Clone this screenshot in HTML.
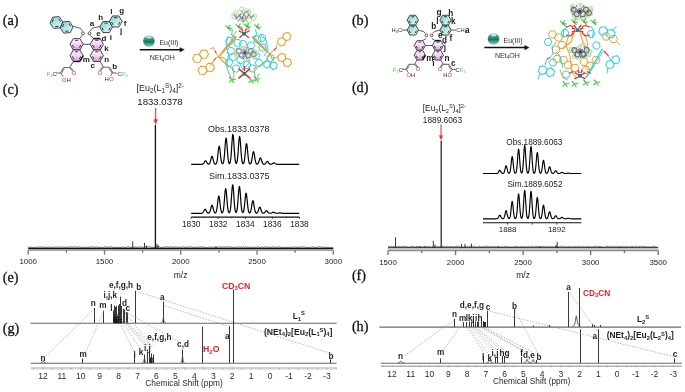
<!DOCTYPE html>
<html><head><meta charset="utf-8"><style>
html,body{margin:0;padding:0;background:#fff;}
svg{display:block;will-change:transform;}
</style></head><body>
<svg width="685" height="392" viewBox="0 0 685 392">
<rect width="685" height="392" fill="#fff"/>
<text x="2.8" y="25.2" font-size="14.2" fill="#111" font-weight="normal" text-anchor="start" font-family='"Liberation Serif", serif' stroke="#111" stroke-width="0.3">(a)</text>
<text x="351.9" y="24.6" font-size="14.2" fill="#111" font-weight="normal" text-anchor="start" font-family='"Liberation Serif", serif' stroke="#111" stroke-width="0.3">(b)</text>
<text x="2.8" y="93.9" font-size="14.2" fill="#111" font-weight="normal" text-anchor="start" font-family='"Liberation Serif", serif' stroke="#111" stroke-width="0.3">(c)</text>
<text x="351.9" y="92.4" font-size="14.2" fill="#111" font-weight="normal" text-anchor="start" font-family='"Liberation Serif", serif' stroke="#111" stroke-width="0.3">(d)</text>
<text x="2.8" y="281.5" font-size="14.2" fill="#111" font-weight="normal" text-anchor="start" font-family='"Liberation Serif", serif' stroke="#111" stroke-width="0.3">(e)</text>
<text x="351.9" y="280.1" font-size="14.2" fill="#111" font-weight="normal" text-anchor="start" font-family='"Liberation Serif", serif' stroke="#111" stroke-width="0.3">(f)</text>
<text x="2.8" y="332.7" font-size="14.2" fill="#111" font-weight="normal" text-anchor="start" font-family='"Liberation Serif", serif' stroke="#111" stroke-width="0.3">(g)</text>
<text x="351.9" y="331.3" font-size="14.2" fill="#111" font-weight="normal" text-anchor="start" font-family='"Liberation Serif", serif' stroke="#111" stroke-width="0.3">(h)</text>
<line x1="28.2" y1="249.9" x2="333.3" y2="249.9" stroke="#8a8a8a" stroke-width="1.5" />
<line x1="28.2" y1="249.9" x2="28.2" y2="254.8" stroke="#7a7a7a" stroke-width="1.3" />
<line x1="66.34" y1="249.9" x2="66.34" y2="252.7" stroke="#7a7a7a" stroke-width="1.3" />
<line x1="104.48" y1="249.9" x2="104.48" y2="254.8" stroke="#7a7a7a" stroke-width="1.3" />
<line x1="142.61" y1="249.9" x2="142.61" y2="252.7" stroke="#7a7a7a" stroke-width="1.3" />
<line x1="180.75" y1="249.9" x2="180.75" y2="254.8" stroke="#7a7a7a" stroke-width="1.3" />
<line x1="218.89" y1="249.9" x2="218.89" y2="252.7" stroke="#7a7a7a" stroke-width="1.3" />
<line x1="257.03" y1="249.9" x2="257.03" y2="254.8" stroke="#7a7a7a" stroke-width="1.3" />
<line x1="295.16" y1="249.9" x2="295.16" y2="252.7" stroke="#7a7a7a" stroke-width="1.3" />
<line x1="333.3" y1="249.9" x2="333.3" y2="254.8" stroke="#7a7a7a" stroke-width="1.3" />
<text x="28.2" y="264.3" font-size="7.9" fill="#222" font-weight="normal" text-anchor="middle" font-family='"Liberation Sans", sans-serif' >1000</text>
<text x="104.48" y="264.3" font-size="7.9" fill="#222" font-weight="normal" text-anchor="middle" font-family='"Liberation Sans", sans-serif' >1500</text>
<text x="180.75" y="264.3" font-size="7.9" fill="#222" font-weight="normal" text-anchor="middle" font-family='"Liberation Sans", sans-serif' >2000</text>
<text x="257.03" y="264.3" font-size="7.9" fill="#222" font-weight="normal" text-anchor="middle" font-family='"Liberation Sans", sans-serif' >2500</text>
<text x="333.3" y="264.3" font-size="7.9" fill="#222" font-weight="normal" text-anchor="middle" font-family='"Liberation Sans", sans-serif' >3000</text>
<text x="180.6" y="278.4" font-size="8.5" fill="#222" font-weight="normal" text-anchor="middle" font-family='"Liberation Sans", sans-serif' >m/z</text>
<polyline points="28.2,247.31 28.9,247.46 29.6,247.01 30.3,247.53 31,247.12 31.7,247.27 32.4,247.55 33.1,247.14 33.8,247.57 34.5,247.21 35.2,247.54 35.9,247.52 36.6,247.22 37.3,246.86 38,247.49 38.7,247.4 39.4,247.04 40.1,246.75 40.8,247.08 41.5,247.24 42.2,246.72 42.9,247.56 43.6,246.83 44.3,247.34 45,247.47 45.7,247.49 46.4,247.32 47.1,246.87 47.8,247.44 48.5,247.08 49.2,247.02 49.9,247.26 50.6,247.11 51.3,247.54 52,247.55 52.7,247.41 53.4,246.99 54.1,247.22 54.8,247.32 55.5,247.07 56.2,247.19 56.9,247.33 57.6,246.89 58.3,246.97 59,247.38 59.7,247.08 60.4,247.13 61.1,246.81 61.8,246.94 62.5,247.34 63.2,246.72 63.9,247.49 64.6,247.22 65.3,246.92 66,247.46 66.7,247.16 67.4,247.56 68.1,247 68.8,246.91 69.5,247.08 70.2,246.81 70.9,247.32 71.6,246.97 72.3,247.07 73,247.08 73.7,247.19 74.4,246.84 75.1,246.75 75.8,247.17 76.5,247 77.2,247.55 77.9,246.97 78.6,247.02 79.3,246.71 80,246.86 80.7,247.34 81.4,247.25 82.1,247 82.8,247.58 83.5,247.18 84.2,247.45 84.9,247.49 85.6,247.55 86.3,246.91 87,247.48 87.7,247.38 88.4,247.25 89.1,246.82 89.8,247.53 90.5,247.2 91.2,247.11 91.9,246.8 92.6,246.86 93.3,246.82 94,247.35 94.7,247.23 95.4,247.28 96.1,246.8 96.8,246.74 97.5,247.46 98.2,247.44 98.9,247.39 99.6,247.39 100.3,247.16 101,247.07 101.7,247.36 102.4,247.6 103.1,247.22 103.8,247.27 104.5,247.09 105.2,246.74 105.9,246.98 106.6,247.14 107.3,247.04 108,246.99 108.7,247.55 109.4,246.79 110.1,246.9 110.8,246.81 111.5,246.88 112.2,247.25 112.9,247.24 113.6,247.51 114.3,247.03 115,247.54 115.7,247.54 116.4,247.41 117.1,247.45 117.8,247.29 118.5,247.55 119.2,247.6 119.9,247.46 120.6,247.51 121.3,247.27 122,247.58 122.7,246.81 123.4,247.05 124.1,247.47 124.8,247.37 125.5,247.29 126.2,247.27 126.9,247.49 127.6,246.84 128.3,246.71 129,247.18 129.7,247.16 130.4,247.52 131.1,247.51 131.8,247.29 132.5,247.36 133.2,246.85 133.9,247.45 134.6,247.58 135.3,246.74 136,247.12 136.7,247.47 137.4,247.11 138.1,247.58 138.8,247.12 139.5,246.72 140.2,246.82 140.9,246.97 141.6,247.36 142.3,247.27 143,247.45 143.7,246.91 144.4,247.12 145.1,246.9 145.8,247.3 146.5,247.4 147.2,246.87 147.9,246.71 148.6,246.83 149.3,246.87 150,246.86 150.7,246.93 151.4,247.4 152.1,247.13 152.8,247.28 153.5,247.57 154.2,247.57 154.9,247.35 155.6,247.37 156.3,246.98 157,246.74 157.7,247.2 158.4,246.76 159.1,246.71 159.8,246.74 160.5,247.27 161.2,247.4 161.9,247.4 162.6,247.42 163.3,247.42 164,247.04 164.7,246.79 165.4,246.84 166.1,247.17 166.8,247.01 167.5,246.88 168.2,247.52 168.9,247.01 169.6,246.78 170.3,246.9 171,246.92 171.7,247.17 172.4,247.44 173.1,246.89 173.8,247.3 174.5,246.88 175.2,246.73 175.9,247.24 176.6,247.24 177.3,246.75 178,246.95 178.7,247.45 179.4,247.49 180.1,247.46 180.8,246.79 181.5,246.87 182.2,247.47 182.9,246.86 183.6,246.72 184.3,247.01 185,247.28 185.7,247.11 186.4,247.48 187.1,247.59 187.8,246.73 188.5,247.02 189.2,247.13 189.9,246.76 190.6,247.21 191.3,246.82 192,246.86 192.7,247.41 193.4,247.37 194.1,247.34 194.8,247.38 195.5,247.07 196.2,247.37 196.9,247.22 197.6,247.48 198.3,246.78 199,247.28 199.7,247.19 200.4,247.07 201.1,246.79 201.8,247.22 202.5,246.77 203.2,247.15 203.9,247.12 204.6,247.13 205.3,247.58 206,247.2 206.7,247.44 207.4,247.6 208.1,246.88 208.8,247.44 209.5,247.17 210.2,246.95 210.9,247.1 211.6,247.31 212.3,247.13 213,247.1 213.7,246.89 214.4,247.5 215.1,247.1 215.8,247.38 216.5,247.35 217.2,246.9 217.9,247.14 218.6,247.09 219.3,246.92 220,246.78 220.7,247.2 221.4,247.05 222.1,247.15 222.8,247.14 223.5,246.98 224.2,247.19 224.9,247.12 225.6,247.17 226.3,246.75 227,246.97 227.7,246.81 228.4,246.75 229.1,247.37 229.8,247.1 230.5,246.75 231.2,246.84 231.9,247.48 232.6,247.49 233.3,247.2 234,247.53 234.7,247.38 235.4,247.53 236.1,247 236.8,246.89 237.5,246.79 238.2,247.46 238.9,246.96 239.6,247.01 240.3,247.47 241,246.81 241.7,246.73 242.4,247.4 243.1,246.74 243.8,247.24 244.5,247.16 245.2,246.71 245.9,246.85 246.6,247.45 247.3,247.21 248,247.14 248.7,247.29 249.4,247.42 250.1,247.31 250.8,246.95 251.5,247.58 252.2,247.1 252.9,247.2 253.6,247.58 254.3,247.3 255,247.04 255.7,247.14 256.4,247.54 257.1,246.71 257.8,246.89 258.5,246.73 259.2,247.51 259.9,247.36 260.6,247.56 261.3,246.9 262,247.36 262.7,247.48 263.4,247.22 264.1,246.78 264.8,246.86 265.5,247.37 266.2,247.47 266.9,246.77 267.6,247.09 268.3,246.97 269,247.52 269.7,247.55 270.4,246.98 271.1,247.22 271.8,247.53 272.5,246.76 273.2,247.03 273.9,246.88 274.6,247.52 275.3,246.83 276,247.54 276.7,246.82 277.4,247.19 278.1,247.29 278.8,247.1 279.5,246.77 280.2,247.36 280.9,247.48 281.6,247.13 282.3,247.39 283,247.5 283.7,247.45 284.4,247.55 285.1,247.42 285.8,247.32 286.5,247.33 287.2,246.92 287.9,247.34 288.6,247.15 289.3,247.44 290,247.29 290.7,247.58 291.4,247.37 292.1,247.59 292.8,246.94 293.5,247.1 294.2,247.43 294.9,247.17 295.6,246.76 296.3,247.5 297,246.86 297.7,247.21 298.4,247.15 299.1,246.85 299.8,247.25 300.5,247.14 301.2,246.98 301.9,246.72 302.6,247.29 303.3,246.85 304,246.96 304.7,247.03 305.4,247.24 306.1,247.29 306.8,247.55 307.5,247.48 308.2,247.54 308.9,246.93 309.6,247.37 310.3,247.45 311,247.52 311.7,246.84 312.4,246.82 313.1,247 313.8,247.35 314.5,247.38 315.2,247.34 315.9,247.19 316.6,247.46 317.3,247.2 318,247.36 318.7,246.73 319.4,246.72 320.1,247.11 320.8,247.38 321.5,246.73 322.2,247.32 322.9,247.28 323.6,247.6 324.3,247.26 325,247.17 325.7,247.15 326.4,247.42 327.1,247.15 327.8,247.6 328.5,247.36 329.2,247.52 329.9,247.24 330.6,247.56 331.3,247.58 332,247.33 332.7,247.39" stroke="#333" stroke-width="0.7" fill="none" stroke-linejoin="round" />
<line x1="28.2" y1="248.45" x2="333.3" y2="248.45" stroke="#111" stroke-width="1.3" />
<line x1="132.7" y1="248" x2="132.7" y2="241.4" stroke="#222" stroke-width="0.9" />
<line x1="144.5" y1="248" x2="144.5" y2="242.9" stroke="#222" stroke-width="0.9" />
<line x1="157" y1="248" x2="157" y2="244" stroke="#222" stroke-width="0.9" />
<line x1="158.2" y1="248" x2="158.2" y2="245.5" stroke="#222" stroke-width="0.9" />
<line x1="216" y1="248" x2="216" y2="246.3" stroke="#222" stroke-width="0.9" />
<line x1="146.5" y1="248" x2="146.5" y2="245.5" stroke="#222" stroke-width="0.9" />
<line x1="155.4" y1="248.5" x2="155.4" y2="125" stroke="#111" stroke-width="1.3" />
<line x1="155.7" y1="108" x2="155.7" y2="120" stroke="#ee2222" stroke-width="1" />
<polygon points="153.9,119.5 157.5,119.5 155.7,124.5" stroke="#ee2222" stroke-width="0.3" fill="#ee2222" stroke-linejoin="round" />
<text x="136.5" y="91" font-size="9" fill="#222" font-family='"Liberation Sans", sans-serif'>[Eu<tspan font-size="6.3" dy="2">2</tspan><tspan dy="-2">(L</tspan><tspan font-size="6.3" dy="2">1</tspan><tspan font-size="6.3" dy="-5">S</tspan><tspan dy="3">)</tspan><tspan font-size="6.3" dy="2">4</tspan><tspan dy="-2">]</tspan><tspan font-size="6.3" dy="-3.5">2-</tspan></text>
<text x="137.3" y="105.2" font-size="9.6" fill="#222" font-weight="normal" text-anchor="start" font-family='"Liberation Sans", sans-serif' >1833.0378</text>
<polyline points="191.2,164.3 191.6,164.3 192,164.3 192.4,164.3 192.8,164.3 193.2,164.3 193.6,164.3 194,164.3 194.4,164.3 194.8,164.3 195.2,164.3 195.6,164.3 196,164.3 196.4,164.3 196.8,164.3 197.2,164.3 197.6,164.3 198,164.3 198.4,164.3 198.8,164.3 199.2,164.3 199.6,164.3 200,164.3 200.4,164.3 200.8,164.3 201.2,164.3 201.6,164.29 202,164.27 202.4,164.21 202.8,164.08 203.2,163.83 203.6,163.41 204,162.81 204.4,162.08 204.8,161.39 205.2,160.92 205.6,160.81 206,161.12 206.4,161.72 206.8,162.45 207.2,163.13 207.6,163.63 208,163.95 208.4,164.09 208.8,164.08 209.2,163.87 209.6,163.39 210,162.54 210.4,161.26 210.8,159.66 211.2,158.02 211.6,156.77 212,156.3 212.4,156.77 212.8,158.02 213.2,159.66 213.6,161.26 214,162.54 214.4,163.39 214.8,163.88 215.2,164.09 215.6,164.1 216,163.9 216.4,163.36 216.8,162.24 217.2,160.29 217.6,157.39 218,153.74 218.4,150.01 218.8,147.17 219.2,146.1 219.6,147.17 220,150.01 220.4,153.74 220.8,157.39 221.2,160.29 221.6,162.23 222,163.32 222.4,163.77 222.8,163.74 223.2,163.16 223.6,161.81 224,159.33 224.4,155.48 224.8,150.42 225.2,144.94 225.6,140.37 226,138.1 226.4,138.88 226.8,142.45 227.2,147.65 227.6,153.07 228,157.58 228.4,160.73 228.8,162.58 229.2,163.44 229.6,163.56 230,162.97 230.4,161.45 230.8,158.63 231.2,154.24 231.6,148.46 232,142.21 232.4,137.01 232.8,134.41 233.2,135.3 233.6,139.37 234,145.31 234.4,151.49 234.8,156.63 235.2,160.22 235.6,162.33 236,163.3 236.4,163.42 236.8,162.76 237.2,161.1 237.6,158.12 238,153.66 238.4,148.05 238.8,142.32 239.2,137.94 239.6,136.3 240,137.94 240.4,142.32 240.8,148.05 241.2,153.66 241.6,158.13 242,161.12 242.4,162.82 242.8,163.6 243.2,163.75 243.6,163.37 244,162.32 244.4,160.37 244.8,157.32 245.2,153.32 245.6,148.99 246,145.38 246.4,143.58 246.8,144.2 247.2,147.02 247.6,151.14 248,155.42 248.4,158.99 248.8,161.48 249.2,162.97 249.6,163.71 250,163.97 250.4,163.9 250.8,163.47 251.2,162.58 251.6,161.06 252,158.88 252.4,156.26 252.8,153.75 253.2,152.02 253.6,151.65 254,152.75 254.4,154.95 254.8,157.6 255.2,160.04 255.6,161.9 256,163.1 256.4,163.76 256.8,164.04 257.2,164.09 257.6,163.94 258,163.56 258.4,162.87 258.8,161.83 259.2,160.53 259.6,159.2 260,158.18 260.4,157.8 260.8,158.18 261.2,159.2 261.6,160.53 262,161.83 262.4,162.87 262.8,163.56 263.2,163.96 263.6,164.15 264,164.2 264.4,164.16 264.8,164.02 265.2,163.75 265.6,163.33 266,162.77 266.4,162.16 266.8,161.66 267.2,161.41 267.6,161.5 268,161.89 268.4,162.46 268.8,163.06 269.2,163.56 269.6,163.91 270,164.11 270.4,164.21 270.8,164.23 271.2,164.2 271.6,164.11 272,163.94 272.4,163.7 272.8,163.41 273.2,163.14 273.6,162.95 274,162.91 274.4,163.03 274.8,163.27 275.2,163.56 275.6,163.83 276,164.04 276.4,164.17 276.8,164.24 277.2,164.28 277.6,164.29 278,164.3 278.4,164.3 278.8,164.3 279.2,164.3 279.6,164.3 280,164.3 280.4,164.3 280.8,164.3 281.2,164.3 281.6,164.3 282,164.3 282.4,164.3 282.8,164.3 283.2,164.3 283.6,164.3 284,164.3 284.4,164.3 284.8,164.3 285.2,164.3 285.6,164.3 286,164.3 286.4,164.3 286.8,164.3 287.2,164.3 287.6,164.3 288,164.3 288.4,164.3 288.8,164.3 289.2,164.3 289.6,164.3 290,164.3 290.4,164.3 290.8,164.3 291.2,164.3 291.6,164.3 292,164.3 292.4,164.3 292.8,164.3 293.2,164.3 293.6,164.3 294,164.3 294.4,164.3 294.8,164.3 295.2,164.3 295.6,164.3 296,164.3 296.4,164.3 296.8,164.3 297.2,164.3 297.6,164.3 298,164.3 298.4,164.3 298.8,164.3 299.2,164.3" stroke="#000" stroke-width="1.2" fill="none" stroke-linejoin="round" />
<polyline points="191.2,213.3 191.6,213.3 192,213.3 192.4,213.3 192.8,213.3 193.2,213.3 193.6,213.3 194,213.3 194.4,213.3 194.8,213.3 195.2,213.3 195.6,213.3 196,213.3 196.4,213.3 196.8,213.3 197.2,213.3 197.6,213.3 198,213.3 198.4,213.3 198.8,213.3 199.2,213.3 199.6,213.3 200,213.3 200.4,213.3 200.8,213.3 201.2,213.29 201.6,213.26 202,213.19 202.4,213.04 202.8,212.75 203.2,212.25 203.6,211.55 204,210.71 204.4,209.89 204.8,209.34 205.2,209.22 205.6,209.57 206,210.28 206.4,211.14 206.8,211.92 207.2,212.52 207.6,212.91 208,213.11 208.4,213.17 208.8,213.11 209.2,212.87 209.6,212.37 210,211.49 210.4,210.18 210.8,208.54 211.2,206.86 211.6,205.58 212,205.1 212.4,205.58 212.8,206.86 213.2,208.54 213.6,210.18 214,211.49 214.4,212.36 214.8,212.84 215.2,213 215.6,212.88 216,212.38 216.4,211.32 216.8,209.46 217.2,206.69 217.6,203.2 218,199.64 218.4,196.92 218.8,195.9 219.2,196.92 219.6,199.64 220,203.2 220.4,206.69 220.8,209.46 221.2,211.32 221.6,212.36 222,212.8 222.4,212.76 222.8,212.22 223.2,210.94 223.6,208.6 224,204.95 224.4,200.16 224.8,194.97 225.2,190.65 225.6,188.49 226,189.23 226.4,192.61 226.8,197.54 227.2,202.66 227.6,206.94 228,209.92 228.4,211.69 228.8,212.55 229.2,212.78 229.6,212.46 230,211.46 230.4,209.42 230.8,205.99 231.2,201.08 231.6,195.2 232,189.54 232.4,185.66 232.8,184.81 233.2,187.28 233.6,192.24 234,198.2 234.4,203.71 234.8,207.89 235.2,210.57 235.6,212 236,212.49 236.4,212.24 236.8,211.15 237.2,208.95 237.6,205.36 238,200.43 238.4,194.8 238.8,189.74 239.2,186.71 239.6,186.71 240,189.74 240.4,194.8 240.8,200.43 241.2,205.37 241.6,208.96 242,211.17 242.4,212.29 242.8,212.63 243.2,212.34 243.6,211.36 244,209.48 244.4,206.52 244.8,202.64 245.2,198.43 245.6,194.92 246,193.18 246.4,193.78 246.8,196.52 247.2,200.52 247.6,204.67 248,208.14 248.4,210.56 248.8,211.99 249.2,212.69 249.6,212.9 250,212.71 250.4,212.09 250.8,210.9 251.2,209.04 251.6,206.6 252,203.95 252.4,201.75 252.8,200.65 253.2,201.02 253.6,202.75 254,205.26 254.4,207.88 254.8,210.06 255.2,211.58 255.6,212.49 256,212.94 256.4,213.1 256.8,213.05 257.2,212.81 257.6,212.3 258,211.48 258.4,210.34 258.8,209.05 259.2,207.89 259.6,207.19 260,207.19 260.4,207.89 260.8,209.05 261.2,210.34 261.6,211.48 262,212.3 262.4,212.81 262.8,213.08 263.2,213.18 263.6,213.17 264,213.06 264.4,212.83 264.8,212.46 265.2,211.98 265.6,211.46 266,211.03 266.4,210.81 266.8,210.88 267.2,211.22 267.6,211.72 268,212.23 268.4,212.66 268.8,212.96 269.2,213.14 269.6,213.23 270,213.26 270.4,213.26 270.8,213.23 271.2,213.15 271.6,213.02 272,212.83 272.4,212.6 272.8,212.39 273.2,212.24 273.6,212.2 274,212.3 274.4,212.49 274.8,212.72 275.2,212.93 275.6,213.09 276,213.2 276.4,213.25 276.8,213.27 277.2,213.27 277.6,213.25 278,213.21 278.4,213.15 278.8,213.07 279.2,212.99 279.6,212.92 280,212.9 280.4,212.92 280.8,212.99 281.2,213.07 281.6,213.15 282,213.21 282.4,213.25 282.8,213.28 283.2,213.29 283.6,213.3 284,213.3 284.4,213.3 284.8,213.3 285.2,213.3 285.6,213.3 286,213.3 286.4,213.3 286.8,213.3 287.2,213.3 287.6,213.3 288,213.3 288.4,213.3 288.8,213.3 289.2,213.3 289.6,213.3 290,213.3 290.4,213.3 290.8,213.3 291.2,213.3 291.6,213.3 292,213.3 292.4,213.3 292.8,213.3 293.2,213.3 293.6,213.3 294,213.3 294.4,213.3 294.8,213.3 295.2,213.3 295.6,213.3 296,213.3 296.4,213.3 296.8,213.3 297.2,213.3 297.6,213.3 298,213.3 298.4,213.3 298.8,213.3 299.2,213.3" stroke="#000" stroke-width="1.2" fill="none" stroke-linejoin="round" />
<text x="208" y="132.2" font-size="9" fill="#222" font-weight="normal" text-anchor="start" font-family='"Liberation Sans", sans-serif' >Obs.1833.0378</text>
<text x="209" y="178.6" font-size="9" fill="#222" font-weight="normal" text-anchor="start" font-family='"Liberation Sans", sans-serif' >Sim.1833.0375</text>
<line x1="191.2" y1="217.1" x2="299.4" y2="217.1" stroke="#111" stroke-width="1.1" />
<line x1="191.2" y1="217.1" x2="191.2" y2="218.7" stroke="#111" stroke-width="0.9" />
<line x1="204.72" y1="217.1" x2="204.72" y2="218.1" stroke="#111" stroke-width="0.9" />
<line x1="218.25" y1="217.1" x2="218.25" y2="218.7" stroke="#111" stroke-width="0.9" />
<line x1="231.77" y1="217.1" x2="231.77" y2="218.1" stroke="#111" stroke-width="0.9" />
<line x1="245.3" y1="217.1" x2="245.3" y2="218.7" stroke="#111" stroke-width="0.9" />
<line x1="258.82" y1="217.1" x2="258.82" y2="218.1" stroke="#111" stroke-width="0.9" />
<line x1="272.35" y1="217.1" x2="272.35" y2="218.7" stroke="#111" stroke-width="0.9" />
<line x1="285.88" y1="217.1" x2="285.88" y2="218.1" stroke="#111" stroke-width="0.9" />
<line x1="299.4" y1="217.1" x2="299.4" y2="218.7" stroke="#111" stroke-width="0.9" />
<text x="191.2" y="226.7" font-size="8.3" fill="#222" font-weight="normal" text-anchor="middle" font-family='"Liberation Sans", sans-serif' >1830</text>
<text x="218.25" y="226.7" font-size="8.3" fill="#222" font-weight="normal" text-anchor="middle" font-family='"Liberation Sans", sans-serif' >1832</text>
<text x="245.3" y="226.7" font-size="8.3" fill="#222" font-weight="normal" text-anchor="middle" font-family='"Liberation Sans", sans-serif' >1834</text>
<text x="272.35" y="226.7" font-size="8.3" fill="#222" font-weight="normal" text-anchor="middle" font-family='"Liberation Sans", sans-serif' >1836</text>
<text x="299.4" y="226.7" font-size="8.3" fill="#222" font-weight="normal" text-anchor="middle" font-family='"Liberation Sans", sans-serif' >1838</text>
<line x1="388" y1="250.45" x2="658.2" y2="250.45" stroke="#8c8c8c" stroke-width="1.8" />
<line x1="388" y1="250.45" x2="388" y2="255.05" stroke="#707070" stroke-width="1.3" />
<line x1="421.77" y1="250.45" x2="421.77" y2="253.25" stroke="#707070" stroke-width="1.3" />
<line x1="455.55" y1="250.45" x2="455.55" y2="255.05" stroke="#707070" stroke-width="1.3" />
<line x1="489.33" y1="250.45" x2="489.33" y2="253.25" stroke="#707070" stroke-width="1.3" />
<line x1="523.1" y1="250.45" x2="523.1" y2="255.05" stroke="#707070" stroke-width="1.3" />
<line x1="556.88" y1="250.45" x2="556.88" y2="253.25" stroke="#707070" stroke-width="1.3" />
<line x1="590.65" y1="250.45" x2="590.65" y2="255.05" stroke="#707070" stroke-width="1.3" />
<line x1="624.43" y1="250.45" x2="624.43" y2="253.25" stroke="#707070" stroke-width="1.3" />
<line x1="658.2" y1="250.45" x2="658.2" y2="255.05" stroke="#707070" stroke-width="1.3" />
<text x="388" y="264.7" font-size="7.9" fill="#222" font-weight="normal" text-anchor="middle" font-family='"Liberation Sans", sans-serif' >1500</text>
<text x="455.55" y="264.7" font-size="7.9" fill="#222" font-weight="normal" text-anchor="middle" font-family='"Liberation Sans", sans-serif' >2000</text>
<text x="523.1" y="264.7" font-size="7.9" fill="#222" font-weight="normal" text-anchor="middle" font-family='"Liberation Sans", sans-serif' >2500</text>
<text x="590.65" y="264.7" font-size="7.9" fill="#222" font-weight="normal" text-anchor="middle" font-family='"Liberation Sans", sans-serif' >3000</text>
<text x="658.2" y="264.7" font-size="7.9" fill="#222" font-weight="normal" text-anchor="middle" font-family='"Liberation Sans", sans-serif' >3500</text>
<text x="523.1" y="278.4" font-size="8.5" fill="#222" font-weight="normal" text-anchor="middle" font-family='"Liberation Sans", sans-serif' >m/z</text>
<polyline points="388,246.61 388.7,246.67 389.4,246.45 390.1,246.54 390.8,246.48 391.5,246.32 392.2,246.81 392.9,246.87 393.6,246.22 394.3,247.05 395,246.48 395.7,246.56 396.4,247.16 397.1,246.36 397.8,246.31 398.5,246.57 399.2,246.47 399.9,246.39 400.6,247.06 401.3,246.68 402,246.7 402.7,246.37 403.4,246.4 404.1,246.37 404.8,246.62 405.5,246.31 406.2,246.52 406.9,246.51 407.6,246.97 408.3,247.17 409,247.07 409.7,246.84 410.4,247.1 411.1,246.36 411.8,246.64 412.5,246.57 413.2,246.57 413.9,246.52 414.6,246.71 415.3,247.2 416,246.4 416.7,246.45 417.4,246.7 418.1,246.66 418.8,246.54 419.5,247.13 420.2,246.46 420.9,246.95 421.6,247.13 422.3,246.93 423,246.47 423.7,246.99 424.4,246.46 425.1,246.22 425.8,246.71 426.5,246.82 427.2,246.72 427.9,246.52 428.6,246.43 429.3,246.58 430,246.56 430.7,247.12 431.4,247.05 432.1,246.95 432.8,246.46 433.5,246.9 434.2,246.63 434.9,247.19 435.6,247.14 436.3,246.93 437,246.53 437.7,246.51 438.4,246.52 439.1,246.91 439.8,246.68 440.5,246.74 441.2,246.73 441.9,247.08 442.6,246.31 443.3,247 444,246.22 444.7,246.26 445.4,247.18 446.1,246.74 446.8,246.38 447.5,246.23 448.2,246.75 448.9,246.93 449.6,246.99 450.3,246.25 451,246.99 451.7,246.62 452.4,247.06 453.1,246.68 453.8,246.25 454.5,247.07 455.2,246.38 455.9,246.69 456.6,246.31 457.3,246.5 458,246.97 458.7,246.3 459.4,246.71 460.1,247.18 460.8,247.2 461.5,246.71 462.2,246.75 462.9,246.9 463.6,247.06 464.3,246.86 465,246.88 465.7,246.36 466.4,247.2 467.1,246.45 467.8,246.36 468.5,247.08 469.2,246.27 469.9,246.49 470.6,246.3 471.3,246.91 472,246.83 472.7,246.81 473.4,246.2 474.1,246.61 474.8,246.84 475.5,246.77 476.2,246.92 476.9,247.15 477.6,247.1 478.3,246.37 479,246.91 479.7,246.26 480.4,246.95 481.1,246.93 481.8,246.69 482.5,247.01 483.2,246.83 483.9,246.24 484.6,246.32 485.3,246.39 486,246.57 486.7,246.29 487.4,246.26 488.1,246.65 488.8,246.48 489.5,247.15 490.2,246.47 490.9,246.75 491.6,246.45 492.3,246.56 493,246.91 493.7,247.15 494.4,246.27 495.1,247.07 495.8,246.73 496.5,246.86 497.2,246.9 497.9,246.46 498.6,246.22 499.3,246.94 500,246.54 500.7,246.9 501.4,246.64 502.1,246.81 502.8,247.03 503.5,247.04 504.2,246.99 504.9,246.29 505.6,246.7 506.3,246.98 507,246.29 507.7,246.2 508.4,246.75 509.1,247.06 509.8,247.01 510.5,247.11 511.2,246.86 511.9,247.11 512.6,246.96 513.3,246.94 514,246.63 514.7,246.31 515.4,246.45 516.1,246.79 516.8,246.79 517.5,246.68 518.2,246.82 518.9,246.86 519.6,247.14 520.3,246.92 521,246.23 521.7,247.07 522.4,246.7 523.1,246.57 523.8,246.34 524.5,246.98 525.2,246.93 525.9,246.95 526.6,246.8 527.3,246.75 528,246.25 528.7,246.35 529.4,246.33 530.1,247.18 530.8,247.17 531.5,246.49 532.2,246.3 532.9,246.73 533.6,246.61 534.3,247.2 535,246.81 535.7,246.27 536.4,246.37 537.1,246.34 537.8,246.23 538.5,246.95 539.2,247.09 539.9,247.05 540.6,246.68 541.3,246.52 542,246.26 542.7,246.48 543.4,246.55 544.1,246.44 544.8,246.74 545.5,246.65 546.2,247.16 546.9,246.42 547.6,246.97 548.3,246.28 549,246.55 549.7,246.9 550.4,247.07 551.1,246.95 551.8,246.56 552.5,246.5 553.2,247.09 553.9,247.13 554.6,246.68 555.3,246.62 556,246.81 556.7,246.98 557.4,246.6 558.1,247.19 558.8,246.9 559.5,246.74 560.2,246.24 560.9,246.56 561.6,246.32 562.3,246.72 563,246.97 563.7,246.95 564.4,246.24 565.1,246.5 565.8,246.89 566.5,247.18 567.2,246.7 567.9,246.53 568.6,246.78 569.3,246.94 570,246.53 570.7,246.27 571.4,246.97 572.1,247.17 572.8,246.86 573.5,246.78 574.2,246.52 574.9,247 575.6,246.4 576.3,246.46 577,246.7 577.7,246.99 578.4,246.23 579.1,246.89 579.8,246.38 580.5,246.97 581.2,246.98 581.9,246.44 582.6,246.91 583.3,246.25 584,246.7 584.7,247.01 585.4,246.98 586.1,246.78 586.8,246.53 587.5,246.25 588.2,247.05 588.9,246.81 589.6,246.99 590.3,246.23 591,247.06 591.7,247.15 592.4,247.14 593.1,246.81 593.8,246.3 594.5,246.32 595.2,246.47 595.9,246.2 596.6,246.27 597.3,246.87 598,247.01 598.7,246.26 599.4,246.45 600.1,247.17 600.8,246.54 601.5,246.82 602.2,246.83 602.9,246.87 603.6,247.03 604.3,247.2 605,246.92 605.7,246.85 606.4,246.24 607.1,247.08 607.8,246.24 608.5,246.99 609.2,246.84 609.9,246.38 610.6,246.38 611.3,246.77 612,247.15 612.7,246.73 613.4,246.83 614.1,246.28 614.8,247.01 615.5,246.84 616.2,246.3 616.9,247.17 617.6,246.79 618.3,246.39 619,246.43 619.7,247.16 620.4,247.17 621.1,247.14 621.8,246.28 622.5,246.94 623.2,246.45 623.9,246.3 624.6,246.86 625.3,246.93 626,246.24 626.7,246.58 627.4,246.94 628.1,246.48 628.8,246.88 629.5,246.92 630.2,247.2 630.9,246.44 631.6,246.28 632.3,246.57 633,246.26 633.7,247.18 634.4,246.97 635.1,246.72 635.8,246.24 636.5,246.25 637.2,246.81 637.9,246.95 638.6,246.77 639.3,246.71 640,246.27 640.7,247.02 641.4,246.4 642.1,246.46 642.8,246.38 643.5,246.43 644.2,246.59 644.9,246.87 645.6,246.88 646.3,246.84 647,246.42 647.7,247.12 648.4,247 649.1,246.45 649.8,246.95 650.5,247.14 651.2,247.17 651.9,246.65 652.6,246.87 653.3,246.22 654,246.32 654.7,246.21 655.4,246.94 656.1,247.12 656.8,247.1 657.5,246.7" stroke="#333" stroke-width="0.7" fill="none" stroke-linejoin="round" />
<line x1="388" y1="247.75" x2="658.2" y2="247.75" stroke="#111" stroke-width="1.2" />
<line x1="395.5" y1="247.8" x2="395.5" y2="237.3" stroke="#222" stroke-width="0.9" />
<line x1="433.3" y1="247.8" x2="433.3" y2="240.8" stroke="#222" stroke-width="0.9" />
<line x1="435" y1="247.8" x2="435" y2="244.5" stroke="#222" stroke-width="0.9" />
<line x1="461.4" y1="247.8" x2="461.4" y2="244" stroke="#222" stroke-width="0.9" />
<line x1="465" y1="247.8" x2="465" y2="244" stroke="#222" stroke-width="0.9" />
<line x1="471.4" y1="247.8" x2="471.4" y2="243.5" stroke="#222" stroke-width="0.9" />
<line x1="557.2" y1="247.8" x2="557.2" y2="241.8" stroke="#222" stroke-width="0.9" />
<line x1="556" y1="247.8" x2="556" y2="245" stroke="#222" stroke-width="0.9" />
<line x1="420" y1="247.8" x2="420" y2="246" stroke="#222" stroke-width="0.9" />
<line x1="425" y1="247.8" x2="425" y2="246.5" stroke="#222" stroke-width="0.9" />
<line x1="498" y1="247.8" x2="498" y2="246.5" stroke="#222" stroke-width="0.9" />
<line x1="540" y1="247.8" x2="540" y2="246" stroke="#222" stroke-width="0.9" />
<line x1="600" y1="247.8" x2="600" y2="246.8" stroke="#222" stroke-width="0.9" />
<line x1="620" y1="247.8" x2="620" y2="246.5" stroke="#222" stroke-width="0.9" />
<line x1="441.2" y1="247.8" x2="441.2" y2="140.8" stroke="#1a1a1a" stroke-width="1.2" />
<line x1="441" y1="124.5" x2="441" y2="136" stroke="#ee2222" stroke-width="1" />
<polygon points="439.3,135.5 442.7,135.5 441,140.3" stroke="#ee2222" stroke-width="0.3" fill="#ee2222" stroke-linejoin="round" />
<text x="422.8" y="110.6" font-size="8.3" fill="#222" font-family='"Liberation Sans", sans-serif'>[Eu<tspan font-size="5.6" dy="2">2</tspan><tspan dy="-2">(L</tspan><tspan font-size="5.6" dy="2">2</tspan><tspan font-size="5.6" dy="-4.5">S</tspan><tspan dy="2.5">)</tspan><tspan font-size="5.6" dy="2">4</tspan><tspan dy="-2">]</tspan><tspan font-size="5.6" dy="-3">2-</tspan></text>
<text x="422.8" y="122.6" font-size="8.3" fill="#222" font-weight="normal" text-anchor="start" font-family='"Liberation Sans", sans-serif' >1889.6063</text>
<polyline points="483,173.5 483.4,173.5 483.8,173.5 484.2,173.5 484.6,173.5 485,173.5 485.4,173.5 485.8,173.5 486.2,173.5 486.6,173.5 487,173.5 487.4,173.5 487.8,173.5 488.2,173.5 488.6,173.5 489,173.5 489.4,173.5 489.8,173.5 490.2,173.5 490.6,173.5 491,173.5 491.4,173.5 491.8,173.5 492.2,173.5 492.6,173.5 493,173.5 493.4,173.5 493.8,173.5 494.2,173.5 494.6,173.5 495,173.5 495.4,173.5 495.8,173.5 496.2,173.49 496.6,173.48 497,173.43 497.4,173.31 497.8,173.05 498.2,172.58 498.6,171.89 499,171.1 499.4,170.45 499.8,170.2 500.2,170.45 500.6,171.1 501,171.89 501.4,172.58 501.8,173.05 502.2,173.31 502.6,173.42 503,173.42 503.4,173.29 503.8,172.95 504.2,172.22 504.6,170.97 505,169.24 505.4,167.39 505.8,166.04 506.2,165.74 506.6,166.62 507,168.3 507.4,170.15 507.8,171.66 508.2,172.63 508.6,173.13 509,173.28 509.4,173.13 509.8,172.54 510.2,171.2 510.6,168.77 511,165.23 511.4,161.16 511.8,157.81 512.2,156.5 512.6,157.81 513,161.16 513.4,165.23 513.8,168.77 514.2,171.2 514.6,172.54 515,173.13 515.4,173.25 515.8,172.99 516.2,172.12 516.6,170.18 517,166.69 517.4,161.57 517.8,155.71 518.2,150.88 518.6,149 519,150.88 519.4,155.71 519.8,161.57 520.2,166.69 520.6,170.18 521,172.09 521.4,172.89 521.8,172.93 522.2,172.22 522.6,170.38 523,166.85 523.4,161.39 523.8,154.69 524.2,148.61 524.6,145.44 525,146.54 525.4,151.43 525.8,158.1 526.2,164.34 526.6,168.86 527,171.49 527.4,172.72 527.8,173.11 528.2,172.9 528.6,171.96 529,169.82 529.4,165.94 529.8,160.26 530.2,153.75 530.6,148.39 531,146.3 531.4,148.39 531.8,153.75 532.2,160.26 532.6,165.94 533,169.82 533.4,171.96 533.8,172.91 534.2,173.16 534.6,172.91 535,171.99 535.4,170.03 535.8,166.65 536.2,161.98 536.6,156.98 537,153.33 537.4,152.51 537.8,154.88 538.2,159.43 538.6,164.44 539,168.53 539.4,171.17 539.8,172.56 540.2,173.13 540.6,173.21 541,172.89 541.4,172.03 541.8,170.36 542.2,167.79 542.6,164.63 543,161.76 543.4,160.27 543.8,160.79 544.2,163.09 544.6,166.24 545,169.18 545.4,171.31 545.8,172.55 546.2,173.13 546.6,173.32 547,173.24 547.4,172.89 547.8,172.15 548.2,170.95 548.6,169.38 549,167.82 549.4,166.83 549.8,166.83 550.2,167.82 550.6,169.38 551,170.95 551.4,172.15 551.8,172.89 552.2,173.26 552.6,173.4 553,173.41 553.4,173.3 553.8,173.05 554.2,172.62 554.6,172.03 555,171.39 555.4,170.92 555.8,170.81 556.2,171.12 556.6,171.7 557,172.34 557.4,172.86 557.8,173.2 558.2,173.38 558.6,173.46 559,173.48 559.4,173.46 559.8,173.4 560.2,173.28 560.6,173.09 561,172.83 561.4,172.58 561.8,172.42 562.2,172.42 562.6,172.58 563,172.83 563.4,173.09 563.8,173.28 564.2,173.4 564.6,173.46 565,173.49 565.4,173.49 565.8,173.48 566.2,173.45 566.6,173.39 567,173.31 567.4,173.21 567.8,173.13 568.2,173.1 568.6,173.13 569,173.21 569.4,173.31 569.8,173.39 570.2,173.45 570.6,173.48 571,173.49 571.4,173.5 571.8,173.5 572.2,173.5 572.6,173.5 573,173.5 573.4,173.5 573.8,173.5 574.2,173.5 574.6,173.5 575,173.5 575.4,173.5 575.8,173.5 576.2,173.5 576.6,173.5 577,173.5 577.4,173.5 577.8,173.5 578.2,173.5 578.6,173.5 579,173.5 579.4,173.5 579.8,173.5 580.2,173.5 580.6,173.5 581,173.5 581.4,173.5" stroke="#000" stroke-width="1.15" fill="none" stroke-linejoin="round" />
<polyline points="483,218.8 483.4,218.8 483.8,218.8 484.2,218.8 484.6,218.8 485,218.8 485.4,218.8 485.8,218.8 486.2,218.8 486.6,218.8 487,218.8 487.4,218.8 487.8,218.8 488.2,218.8 488.6,218.8 489,218.8 489.4,218.8 489.8,218.8 490.2,218.8 490.6,218.8 491,218.8 491.4,218.8 491.8,218.8 492.2,218.8 492.6,218.8 493,218.8 493.4,218.8 493.8,218.8 494.2,218.8 494.6,218.8 495,218.8 495.4,218.8 495.8,218.8 496.2,218.79 496.6,218.78 497,218.73 497.4,218.59 497.8,218.3 498.2,217.77 498.6,217 499,216.11 499.4,215.38 499.8,215.1 500.2,215.38 500.6,216.11 501,217 501.4,217.77 501.8,218.3 502.2,218.59 502.6,218.71 503,218.71 503.4,218.58 503.8,218.22 504.2,217.45 504.6,216.14 505,214.32 505.4,212.38 505.8,210.96 506.2,210.64 506.6,211.56 507,213.33 507.4,215.28 507.8,216.87 508.2,217.89 508.6,218.41 509,218.57 509.4,218.42 509.8,217.81 510.2,216.44 510.6,213.96 511,210.33 511.4,206.17 511.8,202.74 512.2,201.4 512.6,202.74 513,206.17 513.4,210.33 513.8,213.96 514.2,216.44 514.6,217.81 515,218.42 515.4,218.55 515.8,218.28 516.2,217.4 516.6,215.43 517,211.88 517.4,206.68 517.8,200.72 518.2,195.81 518.6,193.9 519,195.81 519.4,200.72 519.8,206.68 520.2,211.88 520.6,215.42 521,217.37 521.4,218.18 521.8,218.22 522.2,217.51 522.6,215.64 523,212.06 523.4,206.51 523.8,199.72 524.2,193.56 524.6,190.34 525,191.46 525.4,196.41 525.8,203.18 526.2,209.51 526.6,214.09 527,216.76 527.4,218.01 527.8,218.4 528.2,218.19 528.6,217.24 529,215.06 529.4,211.13 529.8,205.37 530.2,198.76 530.6,193.32 531,191.2 531.4,193.32 531.8,198.76 532.2,205.37 532.6,211.13 533,215.06 533.4,217.24 533.8,218.21 534.2,218.46 534.6,218.2 535,217.26 535.4,215.26 535.8,211.82 536.2,207.06 536.6,201.97 537,198.25 537.4,197.41 537.8,199.83 538.2,204.46 538.6,209.56 539,213.73 539.4,216.43 539.8,217.84 540.2,218.42 540.6,218.5 541,218.18 541.4,217.28 541.8,215.57 542.2,212.91 542.6,209.66 543,206.71 543.4,205.17 543.8,205.7 544.2,208.08 544.6,211.32 545,214.35 545.4,216.55 545.8,217.82 546.2,218.42 546.6,218.61 547,218.52 547.4,218.15 547.8,217.37 548.2,216.1 548.6,214.43 549,212.79 549.4,211.74 549.8,211.74 550.2,212.79 550.6,214.43 551,216.1 551.4,217.37 551.8,218.16 552.2,218.55 552.6,218.69 553,218.7 553.4,218.57 553.8,218.29 554.2,217.79 554.6,217.11 555,216.37 555.4,215.84 555.8,215.72 556.2,216.06 556.6,216.73 557,217.47 557.4,218.07 557.8,218.46 558.2,218.66 558.6,218.75 559,218.77 559.4,218.75 559.8,218.67 560.2,218.5 560.6,218.24 561,217.89 561.4,217.55 561.8,217.33 562.2,217.33 562.6,217.55 563,217.89 563.4,218.24 563.8,218.5 564.2,218.67 564.6,218.75 565,218.78 565.4,218.78 565.8,218.77 566.2,218.72 566.6,218.63 567,218.51 567.4,218.36 567.8,218.25 568.2,218.2 568.6,218.25 569,218.36 569.4,218.51 569.8,218.63 570.2,218.72 570.6,218.77 571,218.79 571.4,218.8 571.8,218.8 572.2,218.8 572.6,218.8 573,218.8 573.4,218.8 573.8,218.8 574.2,218.8 574.6,218.8 575,218.8 575.4,218.8 575.8,218.8 576.2,218.8 576.6,218.8 577,218.8 577.4,218.8 577.8,218.8 578.2,218.8 578.6,218.8 579,218.8 579.4,218.8 579.8,218.8 580.2,218.8 580.6,218.8 581,218.8 581.4,218.8" stroke="#000" stroke-width="1.15" fill="none" stroke-linejoin="round" />
<text x="506.3" y="144.7" font-size="8.2" fill="#222" font-weight="normal" text-anchor="start" font-family='"Liberation Sans", sans-serif' >Obs.1889.6063</text>
<text x="507.4" y="186.7" font-size="8.2" fill="#222" font-weight="normal" text-anchor="start" font-family='"Liberation Sans", sans-serif' >Sim.1889.6052</text>
<line x1="483" y1="222.8" x2="581.4" y2="222.8" stroke="#111" stroke-width="1.1" />
<line x1="507.6" y1="222.8" x2="507.6" y2="224.6" stroke="#333" stroke-width="0.9" />
<line x1="532.2" y1="222.8" x2="532.2" y2="224.6" stroke="#333" stroke-width="0.9" />
<line x1="556.8" y1="222.8" x2="556.8" y2="224.6" stroke="#333" stroke-width="0.9" />
<text x="507.6" y="232.2" font-size="8" fill="#222" font-weight="normal" text-anchor="middle" font-family='"Liberation Sans", sans-serif' >1888</text>
<text x="556.8" y="232.2" font-size="8" fill="#222" font-weight="normal" text-anchor="middle" font-family='"Liberation Sans", sans-serif' >1892</text>
<line x1="30.6" y1="368.2" x2="336.6" y2="368.2" stroke="#d2d2d2" stroke-width="2.4" />
<line x1="33.44" y1="367.6" x2="33.44" y2="369.2" stroke="#a0a0a0" stroke-width="0.9" />
<line x1="42.9" y1="367.6" x2="42.9" y2="369.2" stroke="#a0a0a0" stroke-width="0.9" />
<line x1="52.36" y1="367.6" x2="52.36" y2="369.2" stroke="#a0a0a0" stroke-width="0.9" />
<line x1="61.83" y1="367.6" x2="61.83" y2="369.2" stroke="#a0a0a0" stroke-width="0.9" />
<line x1="71.3" y1="367.6" x2="71.3" y2="369.2" stroke="#a0a0a0" stroke-width="0.9" />
<line x1="80.76" y1="367.6" x2="80.76" y2="369.2" stroke="#a0a0a0" stroke-width="0.9" />
<line x1="90.22" y1="367.6" x2="90.22" y2="369.2" stroke="#a0a0a0" stroke-width="0.9" />
<line x1="99.69" y1="367.6" x2="99.69" y2="369.2" stroke="#a0a0a0" stroke-width="0.9" />
<line x1="109.16" y1="367.6" x2="109.16" y2="369.2" stroke="#a0a0a0" stroke-width="0.9" />
<line x1="118.62" y1="367.6" x2="118.62" y2="369.2" stroke="#a0a0a0" stroke-width="0.9" />
<line x1="128.09" y1="367.6" x2="128.09" y2="369.2" stroke="#a0a0a0" stroke-width="0.9" />
<line x1="137.55" y1="367.6" x2="137.55" y2="369.2" stroke="#a0a0a0" stroke-width="0.9" />
<line x1="147.01" y1="367.6" x2="147.01" y2="369.2" stroke="#a0a0a0" stroke-width="0.9" />
<line x1="156.48" y1="367.6" x2="156.48" y2="369.2" stroke="#a0a0a0" stroke-width="0.9" />
<line x1="165.94" y1="367.6" x2="165.94" y2="369.2" stroke="#a0a0a0" stroke-width="0.9" />
<line x1="175.41" y1="367.6" x2="175.41" y2="369.2" stroke="#a0a0a0" stroke-width="0.9" />
<line x1="184.88" y1="367.6" x2="184.88" y2="369.2" stroke="#a0a0a0" stroke-width="0.9" />
<line x1="194.34" y1="367.6" x2="194.34" y2="369.2" stroke="#a0a0a0" stroke-width="0.9" />
<line x1="203.81" y1="367.6" x2="203.81" y2="369.2" stroke="#a0a0a0" stroke-width="0.9" />
<line x1="213.27" y1="367.6" x2="213.27" y2="369.2" stroke="#a0a0a0" stroke-width="0.9" />
<line x1="222.74" y1="367.6" x2="222.74" y2="369.2" stroke="#a0a0a0" stroke-width="0.9" />
<line x1="232.2" y1="367.6" x2="232.2" y2="369.2" stroke="#a0a0a0" stroke-width="0.9" />
<line x1="241.66" y1="367.6" x2="241.66" y2="369.2" stroke="#a0a0a0" stroke-width="0.9" />
<line x1="251.13" y1="367.6" x2="251.13" y2="369.2" stroke="#a0a0a0" stroke-width="0.9" />
<line x1="260.59" y1="367.6" x2="260.59" y2="369.2" stroke="#a0a0a0" stroke-width="0.9" />
<line x1="270.06" y1="367.6" x2="270.06" y2="369.2" stroke="#a0a0a0" stroke-width="0.9" />
<line x1="279.52" y1="367.6" x2="279.52" y2="369.2" stroke="#a0a0a0" stroke-width="0.9" />
<line x1="288.99" y1="367.6" x2="288.99" y2="369.2" stroke="#a0a0a0" stroke-width="0.9" />
<line x1="298.45" y1="367.6" x2="298.45" y2="369.2" stroke="#a0a0a0" stroke-width="0.9" />
<line x1="307.92" y1="367.6" x2="307.92" y2="369.2" stroke="#a0a0a0" stroke-width="0.9" />
<line x1="317.38" y1="367.6" x2="317.38" y2="369.2" stroke="#a0a0a0" stroke-width="0.9" />
<line x1="326.85" y1="367.6" x2="326.85" y2="369.2" stroke="#a0a0a0" stroke-width="0.9" />
<line x1="336.31" y1="367.6" x2="336.31" y2="369.2" stroke="#a0a0a0" stroke-width="0.9" />
<text x="42.9" y="379" font-size="8.5" fill="#2a2a2a" font-weight="normal" text-anchor="middle" font-family='"Liberation Sans", sans-serif' >12</text>
<text x="61.83" y="379" font-size="8.5" fill="#2a2a2a" font-weight="normal" text-anchor="middle" font-family='"Liberation Sans", sans-serif' >11</text>
<text x="80.76" y="379" font-size="8.5" fill="#2a2a2a" font-weight="normal" text-anchor="middle" font-family='"Liberation Sans", sans-serif' >10</text>
<text x="99.69" y="379" font-size="8.5" fill="#2a2a2a" font-weight="normal" text-anchor="middle" font-family='"Liberation Sans", sans-serif' >9</text>
<text x="118.62" y="379" font-size="8.5" fill="#2a2a2a" font-weight="normal" text-anchor="middle" font-family='"Liberation Sans", sans-serif' >8</text>
<text x="137.55" y="379" font-size="8.5" fill="#2a2a2a" font-weight="normal" text-anchor="middle" font-family='"Liberation Sans", sans-serif' >7</text>
<text x="156.48" y="379" font-size="8.5" fill="#2a2a2a" font-weight="normal" text-anchor="middle" font-family='"Liberation Sans", sans-serif' >6</text>
<text x="175.41" y="379" font-size="8.5" fill="#2a2a2a" font-weight="normal" text-anchor="middle" font-family='"Liberation Sans", sans-serif' >5</text>
<text x="194.34" y="379" font-size="8.5" fill="#2a2a2a" font-weight="normal" text-anchor="middle" font-family='"Liberation Sans", sans-serif' >4</text>
<text x="213.27" y="379" font-size="8.5" fill="#2a2a2a" font-weight="normal" text-anchor="middle" font-family='"Liberation Sans", sans-serif' >3</text>
<text x="232.2" y="379" font-size="8.5" fill="#2a2a2a" font-weight="normal" text-anchor="middle" font-family='"Liberation Sans", sans-serif' >2</text>
<text x="251.13" y="379" font-size="8.5" fill="#2a2a2a" font-weight="normal" text-anchor="middle" font-family='"Liberation Sans", sans-serif' >1</text>
<text x="270.06" y="379" font-size="8.5" fill="#2a2a2a" font-weight="normal" text-anchor="middle" font-family='"Liberation Sans", sans-serif' >0</text>
<text x="288.99" y="379" font-size="8.5" fill="#2a2a2a" font-weight="normal" text-anchor="middle" font-family='"Liberation Sans", sans-serif' >-1</text>
<text x="307.92" y="379" font-size="8.5" fill="#2a2a2a" font-weight="normal" text-anchor="middle" font-family='"Liberation Sans", sans-serif' >-2</text>
<text x="326.85" y="379" font-size="8.5" fill="#2a2a2a" font-weight="normal" text-anchor="middle" font-family='"Liberation Sans", sans-serif' >-3</text>
<text x="145.3" y="386" font-size="8.3" fill="#2a2a2a" font-weight="normal" text-anchor="start" font-family='"Liberation Sans", sans-serif' >Chemical Shift (ppm)</text>
<line x1="30.6" y1="323.2" x2="336.6" y2="323.2" stroke="#686868" stroke-width="1.1" />
<line x1="30.6" y1="363.3" x2="336.6" y2="363.3" stroke="#686868" stroke-width="1.1" />
<line x1="94.5" y1="323" x2="94.5" y2="308" stroke="#383838" stroke-width="1.05" />
<line x1="103.5" y1="323" x2="103.5" y2="310.6" stroke="#383838" stroke-width="1.05" />
<line x1="113.5" y1="323" x2="113.5" y2="310.5" stroke="#383838" stroke-width="1.05" />
<line x1="114.5" y1="323" x2="114.5" y2="305.5" stroke="#383838" stroke-width="1.05" />
<line x1="115.5" y1="323" x2="115.5" y2="307" stroke="#383838" stroke-width="1.05" />
<line x1="116.5" y1="323" x2="116.5" y2="306" stroke="#383838" stroke-width="1.05" />
<line x1="118.5" y1="323" x2="118.5" y2="305.5" stroke="#383838" stroke-width="1.05" />
<line x1="119.5" y1="323" x2="119.5" y2="304" stroke="#383838" stroke-width="1.05" />
<line x1="120.5" y1="323" x2="120.5" y2="296.6" stroke="#383838" stroke-width="1.05" />
<line x1="121.5" y1="323" x2="121.5" y2="306" stroke="#383838" stroke-width="1.05" />
<line x1="123.5" y1="323" x2="123.5" y2="308.7" stroke="#383838" stroke-width="1.05" />
<line x1="124.5" y1="323" x2="124.5" y2="309.5" stroke="#383838" stroke-width="1.05" />
<line x1="126.5" y1="323" x2="126.5" y2="312" stroke="#383838" stroke-width="1.05" />
<line x1="127.5" y1="323" x2="127.5" y2="312.5" stroke="#383838" stroke-width="1.05" />
<line x1="135.5" y1="323" x2="135.5" y2="290.8" stroke="#383838" stroke-width="1.05" />
<line x1="163.5" y1="323" x2="163.5" y2="301.5" stroke="#383838" stroke-width="1.05" />
<line x1="233.5" y1="323" x2="233.5" y2="289.5" stroke="#383838" stroke-width="1.05" />
<polyline points="160.9,322.74 161.14,322.68 161.38,322.6 161.62,322.49 161.86,322.33 162.1,322.1 162.34,321.74 162.58,321.16 162.82,320.26 163.06,319.12 163.3,318.5 163.54,319.12 163.78,320.26 164.02,321.16 164.26,321.74 164.5,322.1 164.74,322.33 164.98,322.49 165.22,322.6 165.46,322.68 165.7,322.74" stroke="#4a4a4a" stroke-width="0.9" fill="none" stroke-linejoin="round" />
<polygon points="113.6,323 114.2,316.5 115.2,318 116,314.5 117.2,317 118.2,314 119.2,316.5 120.2,313.5 121.3,317.5 122,323" stroke="#1a1a1a" stroke-width="0.6" fill="#1a1a1a" stroke-linejoin="round" />
<line x1="134.5" y1="363" x2="134.5" y2="353.8" stroke="#383838" stroke-width="1.05" />
<line x1="144.5" y1="363" x2="144.5" y2="354.5" stroke="#383838" stroke-width="1.05" />
<line x1="147.5" y1="363" x2="147.5" y2="352" stroke="#383838" stroke-width="1.05" />
<line x1="149.5" y1="363" x2="149.5" y2="351.5" stroke="#383838" stroke-width="1.05" />
<line x1="151.5" y1="363" x2="151.5" y2="353.5" stroke="#383838" stroke-width="1.05" />
<line x1="153.5" y1="363" x2="153.5" y2="354.5" stroke="#383838" stroke-width="1.05" />
<line x1="182.5" y1="363" x2="182.5" y2="349.5" stroke="#383838" stroke-width="1.05" />
<line x1="202.5" y1="363" x2="202.5" y2="326.8" stroke="#383838" stroke-width="1.05" />
<line x1="229.5" y1="363" x2="229.5" y2="326.3" stroke="#383838" stroke-width="1.05" />
<line x1="233.5" y1="363" x2="233.5" y2="322.5" stroke="#383838" stroke-width="1.05" />
<line x1="330.5" y1="363" x2="330.5" y2="359.3" stroke="#383838" stroke-width="1.05" />
<line x1="82.5" y1="363" x2="82.5" y2="358.5" stroke="#383838" stroke-width="1.05" />
<polyline points="40.7,362.87 40.96,362.84 41.22,362.8 41.48,362.75 41.74,362.67 42,362.56 42.26,362.38 42.52,362.1 42.78,361.66 43.04,361.1 43.3,360.8 43.56,361.1 43.82,361.66 44.08,362.1 44.34,362.38 44.6,362.56 44.86,362.67 45.12,362.75 45.38,362.8 45.64,362.84 45.9,362.87" stroke="#4a4a4a" stroke-width="0.9" fill="none" stroke-linejoin="round" />
<polyline points="180.7,362.59 180.88,362.5 181.06,362.38 181.24,362.21 181.42,361.96 181.6,361.6 181.78,361.03 181.96,360.13 182.14,358.73 182.32,356.97 182.5,356 182.68,356.97 182.86,358.73 183.04,360.13 183.22,361.03 183.4,361.6 183.58,361.96 183.76,362.21 183.94,362.38 184.12,362.5 184.3,362.59" stroke="#4a4a4a" stroke-width="0.9" fill="none" stroke-linejoin="round" />
<polyline points="142.1,362.74 142.34,362.68 142.58,362.6 142.82,362.49 143.06,362.33 143.3,362.1 143.54,361.74 143.78,361.16 144.02,360.26 144.26,359.12 144.5,358.5 144.74,359.12 144.98,360.26 145.22,361.16 145.46,361.74 145.7,362.1 145.94,362.33 146.18,362.49 146.42,362.6 146.66,362.68 146.9,362.74" stroke="#4a4a4a" stroke-width="0.9" fill="none" stroke-linejoin="round" />
<line x1="150.6" y1="363" x2="150.6" y2="357.5" stroke="#222" stroke-width="1.2" />
<line x1="152" y1="363" x2="152" y2="357.5" stroke="#222" stroke-width="1.2" />
<line x1="153.4" y1="363" x2="153.4" y2="357.5" stroke="#222" stroke-width="1.2" />
<text x="90.7" y="306" font-size="8.2" fill="#1e1e1e" font-weight="bold" text-anchor="start" font-family='"Liberation Sans", sans-serif' >n</text>
<text x="99.3" y="308.3" font-size="8.2" fill="#1e1e1e" font-weight="bold" text-anchor="start" font-family='"Liberation Sans", sans-serif' >m</text>
<text x="110.2" y="310.6" font-size="8.2" fill="#1e1e1e" font-weight="bold" text-anchor="start" font-family='"Liberation Sans", sans-serif' >l</text>
<text x="103.5" y="297.6" font-size="8.2" fill="#1e1e1e" font-weight="bold" text-anchor="start" font-family='"Liberation Sans", sans-serif' >i,j,k</text>
<text x="109" y="288.2" font-size="8.2" fill="#1e1e1e" font-weight="bold" text-anchor="start" font-family='"Liberation Sans", sans-serif' >e,f,g,h</text>
<text x="122" y="306.2" font-size="8.2" fill="#1e1e1e" font-weight="bold" text-anchor="start" font-family='"Liberation Sans", sans-serif' >d</text>
<text x="125.6" y="311" font-size="8.2" fill="#1e1e1e" font-weight="bold" text-anchor="start" font-family='"Liberation Sans", sans-serif' >c</text>
<text x="136.2" y="289.6" font-size="8.2" fill="#1e1e1e" font-weight="bold" text-anchor="start" font-family='"Liberation Sans", sans-serif' >b</text>
<text x="160" y="299.6" font-size="8.2" fill="#1e1e1e" font-weight="bold" text-anchor="start" font-family='"Liberation Sans", sans-serif' >a</text>
<text x="221.9" y="288.5" font-size="8.7" fill="#ee1c24" font-weight="bold" font-family='"Liberation Sans", sans-serif'>CD<tspan font-size="6" dy="1.8">3</tspan><tspan dy="-1.8">CN</tspan></text>
<text x="292.7" y="318.6" font-size="8.4" fill="#1e1e1e" font-weight="bold" font-family='"Liberation Sans", sans-serif'>L<tspan font-size="5.8" dy="2">1</tspan><tspan font-size="5.8" dy="-5.5">S</tspan></text>
<text x="264.0" y="334.6" font-size="8.65" fill="#1e1e1e" font-weight="bold" font-family='"Liberation Sans", sans-serif'>(NEt<tspan font-size="5.8" dy="1.8">4</tspan><tspan dy="-1.8">)</tspan><tspan font-size="5.8" dy="1.8">2</tspan><tspan dy="-1.8">[Eu</tspan><tspan font-size="5.8" dy="1.8">2</tspan><tspan dy="-1.8">(L</tspan><tspan font-size="5.8" dy="1.8">1</tspan><tspan font-size="5.8" dy="-4.5">S</tspan><tspan dy="2.7">)</tspan><tspan font-size="5.8" dy="1.8">4</tspan><tspan dy="-1.8">]</tspan></text>
<text x="40.4" y="361" font-size="8.2" fill="#1e1e1e" font-weight="bold" text-anchor="start" font-family='"Liberation Sans", sans-serif' >n</text>
<text x="79.4" y="356.9" font-size="8.2" fill="#1e1e1e" font-weight="bold" text-anchor="start" font-family='"Liberation Sans", sans-serif' >m</text>
<text x="133.4" y="358.3" font-size="8.2" fill="#1e1e1e" font-weight="bold" text-anchor="start" font-family='"Liberation Sans", sans-serif' >l</text>
<text x="138.8" y="355" font-size="8.2" fill="#1e1e1e" font-weight="bold" text-anchor="start" font-family='"Liberation Sans", sans-serif' >k</text>
<text x="143.9" y="351" font-size="8.2" fill="#1e1e1e" font-weight="bold" text-anchor="start" font-family='"Liberation Sans", sans-serif' >i,j</text>
<text x="147.3" y="340.4" font-size="8.2" fill="#1e1e1e" font-weight="bold" text-anchor="start" font-family='"Liberation Sans", sans-serif' >e,f,g,h</text>
<text x="177.1" y="347.1" font-size="8.2" fill="#1e1e1e" font-weight="bold" text-anchor="start" font-family='"Liberation Sans", sans-serif' >c,d</text>
<text x="203" y="352" font-size="8.7" fill="#ee1c24" font-weight="bold" font-family='"Liberation Sans", sans-serif'>H<tspan font-size="6" dy="1.8">2</tspan><tspan dy="-1.8">O</tspan></text>
<text x="224.9" y="339.1" font-size="8.2" fill="#1e1e1e" font-weight="bold" text-anchor="start" font-family='"Liberation Sans", sans-serif' >a</text>
<text x="328.4" y="358.5" font-size="8.2" fill="#1e1e1e" font-weight="bold" text-anchor="start" font-family='"Liberation Sans", sans-serif' >b</text>
<line x1="94.3" y1="309" x2="45.5" y2="356.5" stroke="#8a8a8a" stroke-width="0.6" stroke-dasharray="1.6,1.4"/>
<line x1="103.5" y1="311.5" x2="86" y2="351.5" stroke="#8a8a8a" stroke-width="0.6" stroke-dasharray="1.6,1.4"/>
<line x1="116" y1="315" x2="134" y2="351.5" stroke="#8a8a8a" stroke-width="0.6" stroke-dasharray="1.6,1.4"/>
<line x1="117.5" y1="315" x2="140.5" y2="349" stroke="#8a8a8a" stroke-width="0.6" stroke-dasharray="1.6,1.4"/>
<line x1="118.5" y1="315" x2="145" y2="345.5" stroke="#8a8a8a" stroke-width="0.6" stroke-dasharray="1.6,1.4"/>
<line x1="119.5" y1="315" x2="147.5" y2="345.5" stroke="#8a8a8a" stroke-width="0.6" stroke-dasharray="1.6,1.4"/>
<line x1="121" y1="315" x2="151" y2="347" stroke="#8a8a8a" stroke-width="0.6" stroke-dasharray="1.6,1.4"/>
<line x1="123.5" y1="310" x2="153" y2="348" stroke="#8a8a8a" stroke-width="0.6" stroke-dasharray="1.6,1.4"/>
<line x1="127.5" y1="313" x2="179.5" y2="342" stroke="#8a8a8a" stroke-width="0.6" stroke-dasharray="1.6,1.4"/>
<line x1="137" y1="291.5" x2="329.5" y2="353" stroke="#8a8a8a" stroke-width="0.6" stroke-dasharray="1.6,1.4"/>
<line x1="165" y1="306" x2="229" y2="326.5" stroke="#8a8a8a" stroke-width="0.6" stroke-dasharray="1.6,1.4"/>
<line x1="113.5" y1="299" x2="116" y2="304" stroke="#8fdcec" stroke-width="0.6" stroke-dasharray="1.2,1"/>
<line x1="123.5" y1="289.5" x2="120.5" y2="296.5" stroke="#8fdcec" stroke-width="0.6" stroke-dasharray="1.2,1"/>
<line x1="157" y1="341.5" x2="153" y2="347.5" stroke="#8fdcec" stroke-width="0.6" stroke-dasharray="1.2,1"/>
<line x1="380.8" y1="366.2" x2="681.7" y2="366.2" stroke="#b4b4b4" stroke-width="1.4" />
<line x1="382.62" y1="365.6" x2="382.62" y2="367.2" stroke="#a0a0a0" stroke-width="0.9" />
<line x1="392" y1="365.6" x2="392" y2="367.2" stroke="#a0a0a0" stroke-width="0.9" />
<line x1="401.38" y1="365.6" x2="401.38" y2="367.2" stroke="#a0a0a0" stroke-width="0.9" />
<line x1="410.75" y1="365.6" x2="410.75" y2="367.2" stroke="#a0a0a0" stroke-width="0.9" />
<line x1="420.12" y1="365.6" x2="420.12" y2="367.2" stroke="#a0a0a0" stroke-width="0.9" />
<line x1="429.5" y1="365.6" x2="429.5" y2="367.2" stroke="#a0a0a0" stroke-width="0.9" />
<line x1="438.88" y1="365.6" x2="438.88" y2="367.2" stroke="#a0a0a0" stroke-width="0.9" />
<line x1="448.25" y1="365.6" x2="448.25" y2="367.2" stroke="#a0a0a0" stroke-width="0.9" />
<line x1="457.62" y1="365.6" x2="457.62" y2="367.2" stroke="#a0a0a0" stroke-width="0.9" />
<line x1="467" y1="365.6" x2="467" y2="367.2" stroke="#a0a0a0" stroke-width="0.9" />
<line x1="476.38" y1="365.6" x2="476.38" y2="367.2" stroke="#a0a0a0" stroke-width="0.9" />
<line x1="485.75" y1="365.6" x2="485.75" y2="367.2" stroke="#a0a0a0" stroke-width="0.9" />
<line x1="495.12" y1="365.6" x2="495.12" y2="367.2" stroke="#a0a0a0" stroke-width="0.9" />
<line x1="504.5" y1="365.6" x2="504.5" y2="367.2" stroke="#a0a0a0" stroke-width="0.9" />
<line x1="513.88" y1="365.6" x2="513.88" y2="367.2" stroke="#a0a0a0" stroke-width="0.9" />
<line x1="523.25" y1="365.6" x2="523.25" y2="367.2" stroke="#a0a0a0" stroke-width="0.9" />
<line x1="532.62" y1="365.6" x2="532.62" y2="367.2" stroke="#a0a0a0" stroke-width="0.9" />
<line x1="542" y1="365.6" x2="542" y2="367.2" stroke="#a0a0a0" stroke-width="0.9" />
<line x1="551.38" y1="365.6" x2="551.38" y2="367.2" stroke="#a0a0a0" stroke-width="0.9" />
<line x1="560.75" y1="365.6" x2="560.75" y2="367.2" stroke="#a0a0a0" stroke-width="0.9" />
<line x1="570.12" y1="365.6" x2="570.12" y2="367.2" stroke="#a0a0a0" stroke-width="0.9" />
<line x1="579.5" y1="365.6" x2="579.5" y2="367.2" stroke="#a0a0a0" stroke-width="0.9" />
<line x1="588.88" y1="365.6" x2="588.88" y2="367.2" stroke="#a0a0a0" stroke-width="0.9" />
<line x1="598.25" y1="365.6" x2="598.25" y2="367.2" stroke="#a0a0a0" stroke-width="0.9" />
<line x1="607.62" y1="365.6" x2="607.62" y2="367.2" stroke="#a0a0a0" stroke-width="0.9" />
<line x1="617" y1="365.6" x2="617" y2="367.2" stroke="#a0a0a0" stroke-width="0.9" />
<line x1="626.38" y1="365.6" x2="626.38" y2="367.2" stroke="#a0a0a0" stroke-width="0.9" />
<line x1="635.75" y1="365.6" x2="635.75" y2="367.2" stroke="#a0a0a0" stroke-width="0.9" />
<line x1="645.12" y1="365.6" x2="645.12" y2="367.2" stroke="#a0a0a0" stroke-width="0.9" />
<line x1="654.5" y1="365.6" x2="654.5" y2="367.2" stroke="#a0a0a0" stroke-width="0.9" />
<line x1="663.88" y1="365.6" x2="663.88" y2="367.2" stroke="#a0a0a0" stroke-width="0.9" />
<line x1="673.25" y1="365.6" x2="673.25" y2="367.2" stroke="#a0a0a0" stroke-width="0.9" />
<text x="392" y="376.9" font-size="8.5" fill="#2a2a2a" font-weight="normal" text-anchor="middle" font-family='"Liberation Sans", sans-serif' >12</text>
<text x="410.75" y="376.9" font-size="8.5" fill="#2a2a2a" font-weight="normal" text-anchor="middle" font-family='"Liberation Sans", sans-serif' >11</text>
<text x="429.5" y="376.9" font-size="8.5" fill="#2a2a2a" font-weight="normal" text-anchor="middle" font-family='"Liberation Sans", sans-serif' >10</text>
<text x="448.25" y="376.9" font-size="8.5" fill="#2a2a2a" font-weight="normal" text-anchor="middle" font-family='"Liberation Sans", sans-serif' >9</text>
<text x="467" y="376.9" font-size="8.5" fill="#2a2a2a" font-weight="normal" text-anchor="middle" font-family='"Liberation Sans", sans-serif' >8</text>
<text x="485.75" y="376.9" font-size="8.5" fill="#2a2a2a" font-weight="normal" text-anchor="middle" font-family='"Liberation Sans", sans-serif' >7</text>
<text x="504.5" y="376.9" font-size="8.5" fill="#2a2a2a" font-weight="normal" text-anchor="middle" font-family='"Liberation Sans", sans-serif' >6</text>
<text x="523.25" y="376.9" font-size="8.5" fill="#2a2a2a" font-weight="normal" text-anchor="middle" font-family='"Liberation Sans", sans-serif' >5</text>
<text x="542" y="376.9" font-size="8.5" fill="#2a2a2a" font-weight="normal" text-anchor="middle" font-family='"Liberation Sans", sans-serif' >4</text>
<text x="560.75" y="376.9" font-size="8.5" fill="#2a2a2a" font-weight="normal" text-anchor="middle" font-family='"Liberation Sans", sans-serif' >3</text>
<text x="579.5" y="376.9" font-size="8.5" fill="#2a2a2a" font-weight="normal" text-anchor="middle" font-family='"Liberation Sans", sans-serif' >2</text>
<text x="598.25" y="376.9" font-size="8.5" fill="#2a2a2a" font-weight="normal" text-anchor="middle" font-family='"Liberation Sans", sans-serif' >1</text>
<text x="617" y="376.9" font-size="8.5" fill="#2a2a2a" font-weight="normal" text-anchor="middle" font-family='"Liberation Sans", sans-serif' >0</text>
<text x="635.75" y="376.9" font-size="8.5" fill="#2a2a2a" font-weight="normal" text-anchor="middle" font-family='"Liberation Sans", sans-serif' >-1</text>
<text x="654.5" y="376.9" font-size="8.5" fill="#2a2a2a" font-weight="normal" text-anchor="middle" font-family='"Liberation Sans", sans-serif' >-2</text>
<text x="673.25" y="376.9" font-size="8.5" fill="#2a2a2a" font-weight="normal" text-anchor="middle" font-family='"Liberation Sans", sans-serif' >-3</text>
<text x="492.9" y="383.6" font-size="8.3" fill="#2a2a2a" font-weight="normal" text-anchor="start" font-family='"Liberation Sans", sans-serif' >Chemical Shift (ppm)</text>
<line x1="379.4" y1="327.1" x2="681" y2="327.1" stroke="#686868" stroke-width="1.1" />
<line x1="380.8" y1="363.2" x2="681.7" y2="363.2" stroke="#686868" stroke-width="1.1" />
<line x1="454.5" y1="327" x2="454.5" y2="318.9" stroke="#383838" stroke-width="1.05" />
<line x1="463.5" y1="327" x2="463.5" y2="322" stroke="#383838" stroke-width="1.05" />
<line x1="466.5" y1="327" x2="466.5" y2="322" stroke="#383838" stroke-width="1.05" />
<line x1="469.5" y1="327" x2="469.5" y2="321.5" stroke="#383838" stroke-width="1.05" />
<line x1="471.5" y1="327" x2="471.5" y2="321.5" stroke="#383838" stroke-width="1.05" />
<line x1="473.5" y1="327" x2="473.5" y2="321.2" stroke="#383838" stroke-width="1.05" />
<line x1="475.5" y1="327" x2="475.5" y2="321.5" stroke="#383838" stroke-width="1.05" />
<line x1="477.5" y1="327" x2="477.5" y2="321.5" stroke="#383838" stroke-width="1.05" />
<line x1="478.5" y1="327" x2="478.5" y2="321.5" stroke="#383838" stroke-width="1.05" />
<line x1="481.5" y1="327" x2="481.5" y2="321.2" stroke="#383838" stroke-width="1.05" />
<line x1="483.5" y1="327" x2="483.5" y2="321" stroke="#383838" stroke-width="1.05" />
<line x1="485.5" y1="327" x2="485.5" y2="322" stroke="#383838" stroke-width="1.05" />
<line x1="487.5" y1="327" x2="487.5" y2="310.6" stroke="#383838" stroke-width="1.05" />
<line x1="514.5" y1="327" x2="514.5" y2="309.1" stroke="#383838" stroke-width="1.05" />
<line x1="568.5" y1="327" x2="568.5" y2="292" stroke="#383838" stroke-width="1.05" />
<line x1="579.5" y1="327" x2="579.5" y2="287.9" stroke="#383838" stroke-width="1.05" />
<line x1="592.5" y1="327" x2="592.5" y2="324" stroke="#383838" stroke-width="1.05" />
<line x1="594.5" y1="327" x2="594.5" y2="325" stroke="#383838" stroke-width="1.05" />
<line x1="600.5" y1="327" x2="600.5" y2="325" stroke="#383838" stroke-width="1.05" />
<line x1="533.5" y1="327" x2="533.5" y2="325.5" stroke="#383838" stroke-width="1.05" />
<line x1="549.5" y1="327" x2="549.5" y2="325.2" stroke="#383838" stroke-width="1.05" />
<line x1="484.2" y1="327" x2="484.2" y2="322" stroke="#222" stroke-width="1.6" />
<polyline points="572.3,326.34 572.7,326.2 573.1,326 573.5,325.73 573.9,325.34 574.3,324.76 574.7,323.85 575.1,322.41 575.5,320.17 575.9,317.34 576.3,315.8 576.7,317.34 577.1,320.17 577.5,322.41 577.9,323.85 578.3,324.76 578.7,325.34 579.1,325.73 579.5,326 579.9,326.2 580.3,326.34" stroke="#4a4a4a" stroke-width="0.9" fill="none" stroke-linejoin="round" />
<line x1="440.5" y1="363" x2="440.5" y2="358.5" stroke="#383838" stroke-width="1.05" />
<line x1="483.5" y1="363" x2="483.5" y2="355.9" stroke="#383838" stroke-width="1.05" />
<line x1="495.5" y1="363" x2="495.5" y2="357" stroke="#383838" stroke-width="1.05" />
<line x1="497.5" y1="363" x2="497.5" y2="357" stroke="#383838" stroke-width="1.05" />
<line x1="502.5" y1="363" x2="502.5" y2="356" stroke="#383838" stroke-width="1.05" />
<line x1="504.5" y1="363" x2="504.5" y2="356" stroke="#383838" stroke-width="1.05" />
<line x1="521.5" y1="363" x2="521.5" y2="357" stroke="#383838" stroke-width="1.05" />
<line x1="536.5" y1="363" x2="536.5" y2="360" stroke="#383838" stroke-width="1.05" />
<line x1="580.5" y1="363" x2="580.5" y2="329.3" stroke="#383838" stroke-width="1.05" />
<line x1="598.5" y1="363" x2="598.5" y2="329.3" stroke="#383838" stroke-width="1.05" />
<line x1="674.5" y1="363" x2="674.5" y2="358.5" stroke="#383838" stroke-width="1.05" />
<polyline points="397.6,362.88 397.92,362.86 398.24,362.82 398.56,362.77 398.88,362.7 399.2,362.6 399.52,362.44 399.84,362.18 400.16,361.78 400.48,361.28 400.8,361 401.12,361.28 401.44,361.78 401.76,362.18 402.08,362.44 402.4,362.6 402.72,362.7 403.04,362.77 403.36,362.82 403.68,362.86 404,362.88" stroke="#4a4a4a" stroke-width="0.9" fill="none" stroke-linejoin="round" />
<polyline points="486.6,362.82 486.92,362.79 487.24,362.73 487.56,362.66 487.88,362.56 488.2,362.4 488.52,362.16 488.84,361.77 489.16,361.17 489.48,360.41 489.8,360 490.12,360.41 490.44,361.17 490.76,361.77 491.08,362.16 491.4,362.4 491.72,362.56 492.04,362.66 492.36,362.73 492.68,362.79 493,362.82" stroke="#4a4a4a" stroke-width="0.9" fill="none" stroke-linejoin="round" />
<polyline points="523.9,362.78 524.22,362.73 524.54,362.67 524.86,362.58 525.18,362.45 525.5,362.26 525.82,361.96 526.14,361.48 526.46,360.74 526.78,359.81 527.1,359.3 527.42,359.81 527.74,360.74 528.06,361.48 528.38,361.96 528.7,362.26 529.02,362.45 529.34,362.58 529.66,362.67 529.98,362.73 530.3,362.78" stroke="#4a4a4a" stroke-width="0.9" fill="none" stroke-linejoin="round" />
<polyline points="530.1,362.79 530.42,362.75 530.74,362.69 531.06,362.6 531.38,362.48 531.7,362.3 532.02,362.02 532.34,361.57 532.66,360.87 532.98,359.98 533.3,359.5 533.62,359.98 533.94,360.87 534.26,361.57 534.58,362.02 534.9,362.3 535.22,362.48 535.54,362.6 535.86,362.69 536.18,362.75 536.5,362.79" stroke="#4a4a4a" stroke-width="0.9" fill="none" stroke-linejoin="round" />
<text x="452.1" y="317" font-size="8.2" fill="#1e1e1e" font-weight="bold" text-anchor="start" font-family='"Liberation Sans", sans-serif' >n</text>
<text x="459.1" y="320.6" font-size="8.2" fill="#1e1e1e" font-weight="bold" text-anchor="start" font-family='"Liberation Sans", sans-serif' >m</text>
<text x="465.8" y="320.6" font-size="8.2" fill="#1e1e1e" font-weight="bold" text-anchor="start" font-family='"Liberation Sans", sans-serif' >l</text>
<text x="467.9" y="320.6" font-size="8.2" fill="#1e1e1e" font-weight="bold" text-anchor="start" font-family='"Liberation Sans", sans-serif' >k</text>
<text x="472.3" y="320.6" font-size="8.2" fill="#1e1e1e" font-weight="bold" text-anchor="start" font-family='"Liberation Sans", sans-serif' >j</text>
<text x="475" y="320.6" font-size="8.2" fill="#1e1e1e" font-weight="bold" text-anchor="start" font-family='"Liberation Sans", sans-serif' >i</text>
<text x="477.6" y="320.6" font-size="8.2" fill="#1e1e1e" font-weight="bold" text-anchor="start" font-family='"Liberation Sans", sans-serif' >h</text>
<text x="459.8" y="308.1" font-size="8.2" fill="#1e1e1e" font-weight="bold" text-anchor="start" font-family='"Liberation Sans", sans-serif' >d,e,f,g</text>
<text x="485.7" y="310.2" font-size="8.2" fill="#1e1e1e" font-weight="bold" text-anchor="start" font-family='"Liberation Sans", sans-serif' >c</text>
<text x="512.1" y="308.8" font-size="8.2" fill="#1e1e1e" font-weight="bold" text-anchor="start" font-family='"Liberation Sans", sans-serif' >b</text>
<text x="566.2" y="290.3" font-size="8.2" fill="#1e1e1e" font-weight="bold" text-anchor="start" font-family='"Liberation Sans", sans-serif' >a</text>
<text x="583.0" y="295.5" font-size="8.3" fill="#ee1c24" font-weight="bold" font-family='"Liberation Sans", sans-serif'>CD<tspan font-size="5.8" dy="1.8">3</tspan><tspan dy="-1.8">CN</tspan></text>
<text x="636.9" y="322.2" font-size="8.4" fill="#1e1e1e" font-weight="bold" font-family='"Liberation Sans", sans-serif'>L<tspan font-size="5.8" dy="2">2</tspan><tspan font-size="5.8" dy="-5.5">S</tspan></text>
<text x="606.7" y="338.2" font-size="8.4" fill="#1e1e1e" font-weight="bold" font-family='"Liberation Sans", sans-serif'>(NEt<tspan font-size="5.8" dy="1.8">4</tspan><tspan dy="-1.8">)</tspan><tspan font-size="5.8" dy="1.8">2</tspan><tspan dy="-1.8">[Eu</tspan><tspan font-size="5.8" dy="1.8">2</tspan><tspan dy="-1.8">(L</tspan><tspan font-size="5.8" dy="1.8">2</tspan><tspan font-size="5.8" dy="-4.5">S</tspan><tspan dy="2.7">)</tspan><tspan font-size="5.8" dy="1.8">4</tspan><tspan dy="-1.8">]</tspan></text>
<text x="398.1" y="358.6" font-size="8.2" fill="#1e1e1e" font-weight="bold" text-anchor="start" font-family='"Liberation Sans", sans-serif' >n</text>
<text x="436.9" y="355.4" font-size="8.2" fill="#1e1e1e" font-weight="bold" text-anchor="start" font-family='"Liberation Sans", sans-serif' >m</text>
<text x="481.9" y="359.5" font-size="8.2" fill="#1e1e1e" font-weight="bold" text-anchor="start" font-family='"Liberation Sans", sans-serif' >l</text>
<text x="487.6" y="360.6" font-size="8.2" fill="#1e1e1e" font-weight="bold" text-anchor="start" font-family='"Liberation Sans", sans-serif' >k</text>
<text x="491.6" y="355.6" font-size="8.2" fill="#1e1e1e" font-weight="bold" text-anchor="start" font-family='"Liberation Sans", sans-serif' >i,j</text>
<text x="499.5" y="355.8" font-size="8.2" fill="#1e1e1e" font-weight="bold" text-anchor="start" font-family='"Liberation Sans", sans-serif' >hg</text>
<text x="520.2" y="356" font-size="8.2" fill="#1e1e1e" font-weight="bold" text-anchor="start" font-family='"Liberation Sans", sans-serif' >f</text>
<text x="523" y="358" font-size="8.2" fill="#1e1e1e" font-weight="bold" text-anchor="start" font-family='"Liberation Sans", sans-serif' >d,e</text>
<text x="536.6" y="359.5" font-size="8.2" fill="#1e1e1e" font-weight="bold" text-anchor="start" font-family='"Liberation Sans", sans-serif' >b</text>
<text x="592.6" y="339.2" font-size="8.2" fill="#1e1e1e" font-weight="bold" text-anchor="start" font-family='"Liberation Sans", sans-serif' >a</text>
<text x="672.8" y="357" font-size="8.2" fill="#1e1e1e" font-weight="bold" text-anchor="start" font-family='"Liberation Sans", sans-serif' >c</text>
<line x1="454.3" y1="319.5" x2="403" y2="357" stroke="#8a8a8a" stroke-width="0.6" stroke-dasharray="1.6,1.4"/>
<line x1="462" y1="324" x2="443" y2="351" stroke="#8a8a8a" stroke-width="0.6" stroke-dasharray="1.6,1.4"/>
<line x1="467" y1="327.5" x2="484" y2="352.5" stroke="#8a8a8a" stroke-width="0.6" stroke-dasharray="1.6,1.4"/>
<line x1="469" y1="327.5" x2="489" y2="355" stroke="#8a8a8a" stroke-width="0.6" stroke-dasharray="1.6,1.4"/>
<line x1="471" y1="327.5" x2="493" y2="349.5" stroke="#8a8a8a" stroke-width="0.6" stroke-dasharray="1.6,1.4"/>
<line x1="473" y1="327.5" x2="496" y2="349.5" stroke="#8a8a8a" stroke-width="0.6" stroke-dasharray="1.6,1.4"/>
<line x1="475" y1="327.5" x2="501" y2="350" stroke="#8a8a8a" stroke-width="0.6" stroke-dasharray="1.6,1.4"/>
<line x1="477" y1="327.5" x2="504" y2="350" stroke="#8a8a8a" stroke-width="0.6" stroke-dasharray="1.6,1.4"/>
<line x1="481" y1="327.5" x2="521" y2="350" stroke="#8a8a8a" stroke-width="0.6" stroke-dasharray="1.6,1.4"/>
<line x1="483" y1="327.5" x2="526" y2="352" stroke="#8a8a8a" stroke-width="0.6" stroke-dasharray="1.6,1.4"/>
<line x1="485" y1="327.5" x2="532" y2="352" stroke="#8a8a8a" stroke-width="0.6" stroke-dasharray="1.6,1.4"/>
<line x1="489" y1="311" x2="673" y2="356.5" stroke="#8a8a8a" stroke-width="0.6" stroke-dasharray="1.6,1.4"/>
<line x1="515" y1="310" x2="538" y2="353.5" stroke="#8a8a8a" stroke-width="0.6" stroke-dasharray="1.6,1.4"/>
<line x1="570" y1="293" x2="597" y2="331" stroke="#8a8a8a" stroke-width="0.6" stroke-dasharray="1.6,1.4"/>
<line x1="479" y1="302.5" x2="483" y2="316" stroke="#8fdcec" stroke-width="0.6" stroke-dasharray="1.2,1"/>
<defs>
<linearGradient id="gc" x1="0" y1="0" x2="1" y2="1"><stop offset="0.1" stop-color="#84d4d6"/><stop offset="1" stop-color="#f2fbfb"/></linearGradient>
<linearGradient id="gp" x1="0" y1="0" x2="0" y2="1"><stop offset="0" stop-color="#fcf6fc"/><stop offset="0.5" stop-color="#f2d8f2"/><stop offset="1" stop-color="#d898d8"/></linearGradient>
<linearGradient id="sph" x1="0" y1="0" x2="0" y2="1"><stop offset="0" stop-color="#d8eee8"/><stop offset="0.18" stop-color="#4fa892"/><stop offset="0.55" stop-color="#137a62"/><stop offset="1" stop-color="#8fd0c0"/></linearGradient>
</defs>
<polygon points="60.13,27.82 53.65,28.39 49.92,23.07 52.67,17.18 59.15,16.61 62.88,21.93" stroke="#1e1e1e" stroke-width="0.8" fill="url(#gc)" stroke-linejoin="round" />
<line x1="58.33" y1="26.29" x2="55.16" y2="26.56" stroke="#222" stroke-width="0.9" />
<line x1="52.16" y1="22.28" x2="53.5" y2="19.39" stroke="#222" stroke-width="0.9" />
<line x1="58.71" y1="18.94" x2="60.54" y2="21.54" stroke="#222" stroke-width="0.9" />
<polygon points="70.33,32.58 63.86,33.15 60.13,27.82 62.88,21.93 69.35,21.37 73.08,26.69" stroke="#1e1e1e" stroke-width="0.8" fill="url(#gc)" stroke-linejoin="round" />
<line x1="68.53" y1="31.04" x2="65.36" y2="31.32" stroke="#222" stroke-width="0.9" />
<line x1="62.36" y1="27.04" x2="63.71" y2="24.15" stroke="#222" stroke-width="0.9" />
<line x1="68.92" y1="23.69" x2="70.74" y2="26.3" stroke="#222" stroke-width="0.9" />
<polygon points="112.5,27 109.3,32.54 102.9,32.54 99.7,27 102.9,21.46 109.3,21.46" stroke="#1e1e1e" stroke-width="0.8" fill="url(#gc)" stroke-linejoin="round" />
<line x1="110.24" y1="27.58" x2="108.68" y2="30.3" stroke="#222" stroke-width="0.9" />
<line x1="103.52" y1="30.3" x2="101.96" y2="27.58" stroke="#222" stroke-width="0.9" />
<line x1="104.53" y1="23.12" x2="107.67" y2="23.12" stroke="#222" stroke-width="0.9" />
<polygon points="122.1,21.46 118.9,27 112.5,27 109.3,21.46 112.5,15.91 118.9,15.91" stroke="#1e1e1e" stroke-width="0.8" fill="url(#gc)" stroke-linejoin="round" />
<line x1="119.84" y1="22.04" x2="118.28" y2="24.76" stroke="#222" stroke-width="0.9" />
<line x1="113.12" y1="24.76" x2="111.56" y2="22.04" stroke="#222" stroke-width="0.9" />
<line x1="114.13" y1="17.58" x2="117.27" y2="17.58" stroke="#222" stroke-width="0.9" />
<polygon points="83.2,44.3 79.9,50.02 73.3,50.02 70,44.3 73.3,38.58 79.9,38.58" stroke="#1e1e1e" stroke-width="0.8" fill="url(#gp)" stroke-linejoin="round" />
<line x1="80.87" y1="44.9" x2="79.26" y2="47.7" stroke="#222" stroke-width="0.9" />
<line x1="73.94" y1="47.7" x2="72.33" y2="44.9" stroke="#222" stroke-width="0.9" />
<line x1="74.98" y1="40.3" x2="78.22" y2="40.3" stroke="#222" stroke-width="0.9" />
<polygon points="83.2,55.75 79.9,61.47 73.3,61.47 70,55.75 73.3,50.03 79.9,50.03" stroke="#1e1e1e" stroke-width="0.8" fill="url(#gp)" stroke-linejoin="round" />
<line x1="80.87" y1="56.35" x2="79.26" y2="59.15" stroke="#222" stroke-width="0.9" />
<line x1="73.94" y1="59.15" x2="72.33" y2="56.35" stroke="#222" stroke-width="0.9" />
<line x1="74.98" y1="51.75" x2="78.22" y2="51.75" stroke="#222" stroke-width="0.9" />
<polygon points="103.4,44.3 100.1,50.02 93.5,50.02 90.2,44.3 93.5,38.58 100.1,38.58" stroke="#1e1e1e" stroke-width="0.8" fill="url(#gp)" stroke-linejoin="round" />
<line x1="101.07" y1="44.9" x2="99.46" y2="47.7" stroke="#222" stroke-width="0.9" />
<line x1="94.14" y1="47.7" x2="92.53" y2="44.9" stroke="#222" stroke-width="0.9" />
<line x1="95.18" y1="40.3" x2="98.42" y2="40.3" stroke="#222" stroke-width="0.9" />
<polygon points="103.4,55.75 100.1,61.47 93.5,61.47 90.2,55.75 93.5,50.03 100.1,50.03" stroke="#1e1e1e" stroke-width="0.8" fill="url(#gp)" stroke-linejoin="round" />
<line x1="101.07" y1="56.35" x2="99.46" y2="59.15" stroke="#222" stroke-width="0.9" />
<line x1="94.14" y1="59.15" x2="92.53" y2="56.35" stroke="#222" stroke-width="0.9" />
<line x1="95.18" y1="51.75" x2="98.42" y2="51.75" stroke="#222" stroke-width="0.9" />
<line x1="83.2" y1="44.3" x2="90.2" y2="44.3" stroke="#2a2a2a" stroke-width="0.8" />
<line x1="93.5" y1="38.58" x2="100.1" y2="38.58" stroke="#111" stroke-width="1.6" />
<line x1="79.9" y1="61.47" x2="73.3" y2="61.47" stroke="#111" stroke-width="1.4" />
<line x1="83.2" y1="55.75" x2="79.9" y2="61.47" stroke="#111" stroke-width="1.4" />
<polyline points="72.6,26.3 80.2,28.2 82.6,31.2" stroke="#2a2a2a" stroke-width="0.75" fill="none" stroke-linejoin="round" />
<line x1="82.2" y1="35.2" x2="79.9" y2="38.58" stroke="#2a2a2a" stroke-width="0.75" />
<circle cx="83.0" cy="33.3" r="1.45" fill="#fff" stroke="#333" stroke-width="0.8"/>
<circle cx="89.5" cy="33.3" r="1.45" fill="#fff" stroke="#333" stroke-width="0.8"/>
<polyline points="89.8,31.2 92.4,28.2 99.7,26.4" stroke="#2a2a2a" stroke-width="0.75" fill="none" stroke-linejoin="round" />
<line x1="90.3" y1="35.3" x2="93.5" y2="38.58" stroke="#2a2a2a" stroke-width="0.75" />
<line x1="73.3" y1="61.47" x2="69.6" y2="67.6" stroke="#2a2a2a" stroke-width="0.75" />
<line x1="69.6" y1="67.6" x2="72.6" y2="71.2" stroke="#2a2a2a" stroke-width="0.75" />
<line x1="70.5" y1="67.1" x2="73.5" y2="70.8" stroke="#2a2a2a" stroke-width="0.6" />
<text x="73.8" y="75.2" font-size="6.2" fill="#f0282a" font-weight="normal" text-anchor="middle" font-family='"Liberation Sans", sans-serif' >O</text>
<polyline points="69.6,67.6 63.6,67.6 60.5,73" stroke="#2a2a2a" stroke-width="0.75" fill="none" stroke-linejoin="round" />
<line x1="64.2" y1="68.8" x2="61.6" y2="73.3" stroke="#2a2a2a" stroke-width="0.6" />
<line x1="60.5" y1="73" x2="63.2" y2="76.6" stroke="#2a2a2a" stroke-width="0.7" />
<text x="61.8" y="81.6" font-size="6.0" font-family='"Liberation Sans", sans-serif'><tspan fill="#f0282a">O</tspan><tspan fill="#333">H</tspan></text>
<line x1="60.5" y1="73" x2="56.2" y2="73" stroke="#2a2a2a" stroke-width="0.7" />
<text x="46.6" y="75.6" font-size="6.0" font-family='"Liberation Sans", sans-serif'><tspan fill="#44dd44">F</tspan><tspan fill="#44dd44" font-size="4.2" dy="1">3</tspan><tspan fill="#333" dy="-1">C</tspan></text>
<line x1="100.1" y1="61.47" x2="103.4" y2="67.2" stroke="#2a2a2a" stroke-width="0.75" />
<line x1="103.4" y1="67.2" x2="100.5" y2="70.8" stroke="#2a2a2a" stroke-width="0.75" />
<line x1="102.5" y1="66.7" x2="99.6" y2="70.4" stroke="#2a2a2a" stroke-width="0.6" />
<text x="99.8" y="75" font-size="6.2" fill="#f0282a" font-weight="normal" text-anchor="middle" font-family='"Liberation Sans", sans-serif' >O</text>
<polyline points="103.4,67.2 109.6,67.2 112.8,72.6" stroke="#2a2a2a" stroke-width="0.75" fill="none" stroke-linejoin="round" />
<line x1="109" y1="68.4" x2="111.7" y2="72.9" stroke="#2a2a2a" stroke-width="0.6" />
<line x1="112.8" y1="72.6" x2="110.2" y2="76.3" stroke="#2a2a2a" stroke-width="0.7" />
<text x="104.6" y="81.2" font-size="6.0" font-family='"Liberation Sans", sans-serif'><tspan fill="#333">H</tspan><tspan fill="#f0282a">O</tspan></text>
<line x1="112.8" y1="72.6" x2="117.4" y2="73.4" stroke="#2a2a2a" stroke-width="0.7" />
<text x="117.6" y="76.0" font-size="6.0" font-family='"Liberation Sans", sans-serif'><tspan fill="#333">C</tspan><tspan fill="#44dd44">F</tspan><tspan fill="#44dd44" font-size="4.2" dy="1">3</tspan></text>
<text x="92.1" y="25.88" font-size="8" fill="#1a1a1a" font-weight="bold" text-anchor="middle" font-family='"Liberation Sans", sans-serif' >a</text>
<text x="98.6" y="35.88" font-size="8" fill="#1a1a1a" font-weight="bold" text-anchor="middle" font-family='"Liberation Sans", sans-serif' >e</text>
<text x="100.6" y="19.78" font-size="8" fill="#1a1a1a" font-weight="bold" text-anchor="middle" font-family='"Liberation Sans", sans-serif' >h</text>
<text x="111.4" y="14.48" font-size="8" fill="#1a1a1a" font-weight="bold" text-anchor="middle" font-family='"Liberation Sans", sans-serif' >l</text>
<text x="121.6" y="13.02" font-size="8" fill="#1a1a1a" font-weight="bold" text-anchor="middle" font-family='"Liberation Sans", sans-serif' >g</text>
<text x="125.2" y="26.48" font-size="8" fill="#1a1a1a" font-weight="bold" text-anchor="middle" font-family='"Liberation Sans", sans-serif' >f</text>
<text x="121.1" y="33.12" font-size="8" fill="#1a1a1a" font-weight="bold" text-anchor="middle" font-family='"Liberation Sans", sans-serif' >j</text>
<text x="110.9" y="40.08" font-size="8" fill="#1a1a1a" font-weight="bold" text-anchor="middle" font-family='"Liberation Sans", sans-serif' >i</text>
<text x="103.9" y="41.18" font-size="8" fill="#1a1a1a" font-weight="bold" text-anchor="middle" font-family='"Liberation Sans", sans-serif' >d</text>
<text x="106.6" y="51.18" font-size="8" fill="#1a1a1a" font-weight="bold" text-anchor="middle" font-family='"Liberation Sans", sans-serif' >k</text>
<text x="86.2" y="62.08" font-size="8" fill="#1a1a1a" font-weight="bold" text-anchor="middle" font-family='"Liberation Sans", sans-serif' >m</text>
<text x="106.6" y="62.08" font-size="8" fill="#1a1a1a" font-weight="bold" text-anchor="middle" font-family='"Liberation Sans", sans-serif' >n</text>
<text x="92.8" y="68.28" font-size="8" fill="#1a1a1a" font-weight="bold" text-anchor="middle" font-family='"Liberation Sans", sans-serif' >c</text>
<text x="114.8" y="69.48" font-size="8" fill="#1a1a1a" font-weight="bold" text-anchor="middle" font-family='"Liberation Sans", sans-serif' >b</text>
<polygon points="418.5,20.2 415.65,25.14 409.95,25.14 407.1,20.2 409.95,15.26 415.65,15.26" stroke="#1e1e1e" stroke-width="0.8" fill="url(#gc)" stroke-linejoin="round" />
<line x1="416.49" y1="20.72" x2="415.09" y2="23.14" stroke="#222" stroke-width="0.9" />
<line x1="410.51" y1="23.14" x2="409.11" y2="20.72" stroke="#222" stroke-width="0.9" />
<line x1="411.4" y1="16.74" x2="414.2" y2="16.74" stroke="#222" stroke-width="0.9" />
<polygon points="418.5,30.1 415.65,35.04 409.95,35.04 407.1,30.1 409.95,25.16 415.65,25.16" stroke="#1e1e1e" stroke-width="0.8" fill="url(#gc)" stroke-linejoin="round" />
<line x1="416.49" y1="30.62" x2="415.09" y2="33.04" stroke="#222" stroke-width="0.9" />
<line x1="410.51" y1="33.04" x2="409.11" y2="30.62" stroke="#222" stroke-width="0.9" />
<line x1="411.4" y1="26.64" x2="414.2" y2="26.64" stroke="#222" stroke-width="0.9" />
<polygon points="451.2,20.2 448.35,25.14 442.65,25.14 439.8,20.2 442.65,15.26 448.35,15.26" stroke="#1e1e1e" stroke-width="0.8" fill="url(#gc)" stroke-linejoin="round" />
<line x1="449.19" y1="20.72" x2="447.79" y2="23.14" stroke="#222" stroke-width="0.9" />
<line x1="443.21" y1="23.14" x2="441.81" y2="20.72" stroke="#222" stroke-width="0.9" />
<line x1="444.1" y1="16.74" x2="446.9" y2="16.74" stroke="#222" stroke-width="0.9" />
<polygon points="451.2,30.1 448.35,35.04 442.65,35.04 439.8,30.1 442.65,25.16 448.35,25.16" stroke="#1e1e1e" stroke-width="0.8" fill="url(#gc)" stroke-linejoin="round" />
<line x1="449.19" y1="30.62" x2="447.79" y2="33.04" stroke="#222" stroke-width="0.9" />
<line x1="443.21" y1="33.04" x2="441.81" y2="30.62" stroke="#222" stroke-width="0.9" />
<line x1="444.1" y1="26.64" x2="446.9" y2="26.64" stroke="#222" stroke-width="0.9" />
<line x1="401.8" y1="30.1" x2="407.1" y2="30.1" stroke="#2a2a2a" stroke-width="0.75" />
<text x="391.6" y="32.2" font-size="5.8" fill="#333" font-family='"Liberation Sans", sans-serif'>H<tspan font-size="4" dy="1">3</tspan><tspan dy="-1">C</tspan></text>
<polyline points="418.5,30.1 423.6,31.6 425.4,33.4" stroke="#2a2a2a" stroke-width="0.75" fill="none" stroke-linejoin="round" />
<circle cx="426.4" cy="35.4" r="1.35" fill="#fff" stroke="#333" stroke-width="0.8"/>
<circle cx="431.6" cy="35.4" r="1.35" fill="#fff" stroke="#333" stroke-width="0.8"/>
<polyline points="432.4,33.4 434.4,31.6 439.8,30.1" stroke="#2a2a2a" stroke-width="0.75" fill="none" stroke-linejoin="round" />
<line x1="451.2" y1="30.1" x2="456" y2="30.1" stroke="#2a2a2a" stroke-width="0.75" />
<text x="456.3" y="32.4" font-size="5.8" fill="#333" font-family='"Liberation Sans", sans-serif'>CH<tspan font-size="4" dy="1">3</tspan></text>
<polygon points="425.4,45.5 422.6,50.35 417,50.35 414.2,45.5 417,40.65 422.6,40.65" stroke="#1e1e1e" stroke-width="0.8" fill="url(#gp)" stroke-linejoin="round" />
<line x1="423.43" y1="46.01" x2="422.05" y2="48.39" stroke="#222" stroke-width="0.9" />
<line x1="417.55" y1="48.39" x2="416.17" y2="46.01" stroke="#222" stroke-width="0.9" />
<line x1="418.43" y1="42.11" x2="421.17" y2="42.11" stroke="#222" stroke-width="0.9" />
<polygon points="425.4,55.2 422.6,60.05 417,60.05 414.2,55.2 417,50.35 422.6,50.35" stroke="#1e1e1e" stroke-width="0.8" fill="url(#gp)" stroke-linejoin="round" />
<line x1="423.43" y1="55.71" x2="422.05" y2="58.09" stroke="#222" stroke-width="0.9" />
<line x1="417.55" y1="58.09" x2="416.17" y2="55.71" stroke="#222" stroke-width="0.9" />
<line x1="418.43" y1="51.81" x2="421.17" y2="51.81" stroke="#222" stroke-width="0.9" />
<polygon points="443.5,45.5 440.7,50.35 435.1,50.35 432.3,45.5 435.1,40.65 440.7,40.65" stroke="#1e1e1e" stroke-width="0.8" fill="url(#gp)" stroke-linejoin="round" />
<line x1="441.53" y1="46.01" x2="440.15" y2="48.39" stroke="#222" stroke-width="0.9" />
<line x1="435.65" y1="48.39" x2="434.27" y2="46.01" stroke="#222" stroke-width="0.9" />
<line x1="436.53" y1="42.11" x2="439.27" y2="42.11" stroke="#222" stroke-width="0.9" />
<polygon points="443.5,55.2 440.7,60.05 435.1,60.05 432.3,55.2 435.1,50.35 440.7,50.35" stroke="#1e1e1e" stroke-width="0.8" fill="url(#gp)" stroke-linejoin="round" />
<line x1="441.53" y1="55.71" x2="440.15" y2="58.09" stroke="#222" stroke-width="0.9" />
<line x1="435.65" y1="58.09" x2="434.27" y2="55.71" stroke="#222" stroke-width="0.9" />
<line x1="436.53" y1="51.81" x2="439.27" y2="51.81" stroke="#222" stroke-width="0.9" />
<line x1="425.4" y1="45.5" x2="432.3" y2="45.5" stroke="#2a2a2a" stroke-width="0.8" />
<line x1="435.1" y1="40.65" x2="440.7" y2="40.65" stroke="#111" stroke-width="1.6" />
<line x1="425.4" y1="55.2" x2="422.6" y2="60.05" stroke="#111" stroke-width="1.4" />
<line x1="426" y1="38.6" x2="422.6" y2="40.65" stroke="#2a2a2a" stroke-width="0.75" />
<line x1="432" y1="38.6" x2="435.1" y2="40.65" stroke="#2a2a2a" stroke-width="0.75" />
<line x1="417" y1="60.05" x2="414.6" y2="64.3" stroke="#2a2a2a" stroke-width="0.75" />
<line x1="414.6" y1="64.3" x2="417.2" y2="67.6" stroke="#2a2a2a" stroke-width="0.75" />
<line x1="415.5" y1="63.8" x2="418.1" y2="67.2" stroke="#2a2a2a" stroke-width="0.6" />
<text x="418.1" y="71.4" font-size="5.8" fill="#f0282a" font-weight="normal" text-anchor="middle" font-family='"Liberation Sans", sans-serif' >O</text>
<polyline points="414.6,64.3 408.8,64.3 405.9,69.3" stroke="#2a2a2a" stroke-width="0.75" fill="none" stroke-linejoin="round" />
<line x1="409.4" y1="65.5" x2="407" y2="69.6" stroke="#2a2a2a" stroke-width="0.6" />
<line x1="405.9" y1="69.3" x2="408.3" y2="72.6" stroke="#2a2a2a" stroke-width="0.7" />
<text x="406.6" y="77.2" font-size="5.8" font-family='"Liberation Sans", sans-serif'><tspan fill="#f0282a">O</tspan><tspan fill="#333">H</tspan></text>
<line x1="405.9" y1="69.3" x2="401.8" y2="69.3" stroke="#2a2a2a" stroke-width="0.7" />
<text x="393.0" y="71.8" font-size="5.8" font-family='"Liberation Sans", sans-serif'><tspan fill="#44dd44">F</tspan><tspan fill="#44dd44" font-size="4" dy="1">3</tspan><tspan fill="#333" dy="-1">C</tspan></text>
<line x1="440.7" y1="60.05" x2="443.3" y2="64.3" stroke="#2a2a2a" stroke-width="0.75" />
<line x1="443.3" y1="64.3" x2="440.7" y2="67.6" stroke="#2a2a2a" stroke-width="0.75" />
<line x1="442.4" y1="63.8" x2="439.8" y2="67.2" stroke="#2a2a2a" stroke-width="0.6" />
<text x="440.2" y="71.4" font-size="5.8" fill="#f0282a" font-weight="normal" text-anchor="middle" font-family='"Liberation Sans", sans-serif' >O</text>
<polyline points="443.3,64.3 449,64.3 452,69.3" stroke="#2a2a2a" stroke-width="0.75" fill="none" stroke-linejoin="round" />
<line x1="448.4" y1="65.5" x2="450.9" y2="69.6" stroke="#2a2a2a" stroke-width="0.6" />
<line x1="452" y1="69.3" x2="449.6" y2="72.6" stroke="#2a2a2a" stroke-width="0.7" />
<text x="443.2" y="77.2" font-size="5.8" font-family='"Liberation Sans", sans-serif'><tspan fill="#333">H</tspan><tspan fill="#f0282a">O</tspan></text>
<line x1="452" y1="69.3" x2="456.2" y2="69.6" stroke="#2a2a2a" stroke-width="0.7" />
<text x="455.6" y="72.0" font-size="5.8" font-family='"Liberation Sans", sans-serif'><tspan fill="#333">C</tspan><tspan fill="#44dd44">F</tspan><tspan fill="#44dd44" font-size="4" dy="1">3</tspan></text>
<text x="439" y="14.55" font-size="8.2" fill="#1a1a1a" font-weight="bold" text-anchor="middle" font-family='"Liberation Sans", sans-serif' >g</text>
<text x="450.8" y="15.95" font-size="8.2" fill="#1a1a1a" font-weight="bold" text-anchor="middle" font-family='"Liberation Sans", sans-serif' >h</text>
<text x="437.3" y="23.75" font-size="8.2" fill="#1a1a1a" font-weight="bold" text-anchor="middle" font-family='"Liberation Sans", sans-serif' >l</text>
<text x="453.2" y="24.35" font-size="8.2" fill="#1a1a1a" font-weight="bold" text-anchor="middle" font-family='"Liberation Sans", sans-serif' >k</text>
<text x="433.8" y="29.35" font-size="8.2" fill="#1a1a1a" font-weight="bold" text-anchor="middle" font-family='"Liberation Sans", sans-serif' >b</text>
<text x="467.4" y="33.43" font-size="8.2" fill="#1a1a1a" font-weight="bold" text-anchor="middle" font-family='"Liberation Sans", sans-serif' >a</text>
<text x="440.3" y="37.73" font-size="8.2" fill="#1a1a1a" font-weight="bold" text-anchor="middle" font-family='"Liberation Sans", sans-serif' >e</text>
<text x="450.8" y="40.65" font-size="8.2" fill="#1a1a1a" font-weight="bold" text-anchor="middle" font-family='"Liberation Sans", sans-serif' >f</text>
<text x="444.4" y="43.15" font-size="8.2" fill="#1a1a1a" font-weight="bold" text-anchor="middle" font-family='"Liberation Sans", sans-serif' >d</text>
<text x="445" y="49.55" font-size="8.2" fill="#1a1a1a" font-weight="bold" text-anchor="middle" font-family='"Liberation Sans", sans-serif' >j</text>
<text x="429.8" y="60.53" font-size="8.2" fill="#1a1a1a" font-weight="bold" text-anchor="middle" font-family='"Liberation Sans", sans-serif' >m</text>
<text x="447" y="60.53" font-size="8.2" fill="#1a1a1a" font-weight="bold" text-anchor="middle" font-family='"Liberation Sans", sans-serif' >n</text>
<text x="433.3" y="66.15" font-size="8.2" fill="#1a1a1a" font-weight="bold" text-anchor="middle" font-family='"Liberation Sans", sans-serif' >i</text>
<text x="453.2" y="65.83" font-size="8.2" fill="#1a1a1a" font-weight="bold" text-anchor="middle" font-family='"Liberation Sans", sans-serif' >c</text>
<line x1="139.7" y1="49.7" x2="180.9" y2="49.7" stroke="#111" stroke-width="1.5" />
<polygon points="179.9,47.4 184.4,49.7 179.9,52" stroke="#111" stroke-width="0.3" fill="#111" stroke-linejoin="round" />
<circle cx="148.9" cy="41.1" r="5.8" fill="url(#sph)"/>
<ellipse cx="148.9" cy="37.5" rx="2.8" ry="1.1" fill="#eaf6f2" opacity="0.8"/>
<text x="159.4" y="44.9" font-size="7" fill="#333" font-weight="normal" text-anchor="start" font-family='"Liberation Sans", sans-serif' >Eu(III)</text>
<text x="149.8" y="60.2" font-size="7.0" fill="#333" font-family='"Liberation Sans", sans-serif'>NEt<tspan font-size="5" dy="1.5">4</tspan><tspan dy="-1.5">OH</tspan></text>
<line x1="484.3" y1="47.6" x2="525.7" y2="47.6" stroke="#111" stroke-width="1.5" />
<polygon points="524.7,45.3 529.2,47.6 524.7,49.9" stroke="#111" stroke-width="0.3" fill="#111" stroke-linejoin="round" />
<circle cx="493.5" cy="38.9" r="5.8" fill="url(#sph)"/>
<ellipse cx="493.5" cy="35.3" rx="2.8" ry="1.1" fill="#eaf6f2" opacity="0.8"/>
<text x="503.5" y="42.8" font-size="7" fill="#333" font-weight="normal" text-anchor="start" font-family='"Liberation Sans", sans-serif' >Eu(III)</text>
<text x="494.9" y="57.9" font-size="7.0" fill="#333" font-family='"Liberation Sans", sans-serif'>NEt<tspan font-size="5" dy="1.5">4</tspan><tspan dy="-1.5">OH</tspan></text>
<circle cx="244.67" cy="21.19" r="2.18" fill="#f0faed" stroke="#a4dc98" stroke-width="0.8"/>
<circle cx="236.58" cy="12.34" r="2.03" fill="#f0faed" stroke="#a4dc98" stroke-width="0.8"/>
<circle cx="254.53" cy="16.33" r="2.13" fill="#f0faed" stroke="#a4dc98" stroke-width="0.8"/>
<circle cx="245.13" cy="22.75" r="2.24" fill="#f0faed" stroke="#a4dc98" stroke-width="0.8"/>
<circle cx="248.39" cy="11.38" r="2.32" fill="#f0faed" stroke="#a4dc98" stroke-width="0.8"/>
<circle cx="249.5" cy="20.44" r="2.43" fill="#f0faed" stroke="#a4dc98" stroke-width="0.8"/>
<circle cx="234.09" cy="14.92" r="2.34" fill="#f0faed" stroke="#a4dc98" stroke-width="0.8"/>
<circle cx="253.3" cy="18.21" r="2.3" fill="#f0faed" stroke="#a4dc98" stroke-width="0.8"/>
<circle cx="242.12" cy="19.22" r="2.43" fill="#f0faed" stroke="#a4dc98" stroke-width="0.8"/>
<circle cx="234.26" cy="16.83" r="2.44" fill="#f0faed" stroke="#a4dc98" stroke-width="0.8"/>
<circle cx="241.53" cy="9.25" r="2.2" fill="#f0faed" stroke="#a4dc98" stroke-width="0.8"/>
<circle cx="246.61" cy="11" r="2.47" fill="#f0faed" stroke="#a4dc98" stroke-width="0.8"/>
<circle cx="248.57" cy="13.15" r="2.07" fill="#f0faed" stroke="#a4dc98" stroke-width="0.8"/>
<polyline points="234.22,14.55 236.67,18.94 239.11,14.9 241.56,18.4 244,14.68 246.44,18.21 248.89,14.82 251.33,17.96 253.78,15.14" stroke="#8e8e8e" stroke-width="1.3" fill="none" stroke-linejoin="round" />
<polyline points="237.68,21.3 240.55,18 243.43,21.6 246.3,18.2" stroke="#999" stroke-width="1.1" fill="none" stroke-linejoin="round" />
<polyline points="241.12,10.3 243.43,14.3 246.88,10.8 249.18,14.8" stroke="#999" stroke-width="1.1" fill="none" stroke-linejoin="round" />
<circle cx="240.5" cy="14.3" r="0.9" fill="#3a5ad8"/>
<circle cx="243" cy="18.3" r="0.9" fill="#3a5ad8"/>
<polygon points="201.8,58.24 199.64,62.3 195.04,62.46 192.6,58.56 194.76,54.5 199.36,54.34" stroke="#f0a12e" stroke-width="1.1" fill="none" stroke-linejoin="round" />
<polygon points="208.55,54.02 206.39,58.08 201.8,58.24 199.36,54.34 201.52,50.28 206.12,50.12" stroke="#f0a12e" stroke-width="1.1" fill="none" stroke-linejoin="round" />
<polygon points="207.16,71.04 204.32,74.67 199.77,74.02 198.04,69.76 200.88,66.13 205.43,66.78" stroke="#f0a12e" stroke-width="1.1" fill="none" stroke-linejoin="round" />
<polygon points="214.54,68.06 211.71,71.68 207.16,71.04 205.43,66.78 208.26,63.15 212.82,63.79" stroke="#f0a12e" stroke-width="1.1" fill="none" stroke-linejoin="round" />
<polygon points="285.75,40.69 284.64,44.84 280.49,45.95 277.45,42.91 278.56,38.76 282.71,37.65" stroke="#f0a12e" stroke-width="1.1" fill="none" stroke-linejoin="round" />
<polygon points="291.02,35.42 289.91,39.57 285.75,40.69 282.71,37.65 283.83,33.49 287.98,32.38" stroke="#f0a12e" stroke-width="1.1" fill="none" stroke-linejoin="round" />
<polygon points="283.13,61.69 278.92,60.8 277.59,56.71 280.47,53.51 284.68,54.4 286.01,58.49" stroke="#f0a12e" stroke-width="1.1" fill="none" stroke-linejoin="round" />
<polygon points="288.66,66.67 284.46,65.78 283.13,61.69 286.01,58.49 290.21,59.39 291.54,63.48" stroke="#f0a12e" stroke-width="1.1" fill="none" stroke-linejoin="round" />
<polyline points="209.8,49 213.6,47.6 215.2,51" stroke="#f0a12e" stroke-width="1" fill="none" stroke-linejoin="round" />
<line x1="215.2" y1="51" x2="216.2" y2="53.2" stroke="#ec2a24" stroke-width="1.1" />
<polyline points="216.2,53.2 218.8,57" stroke="#f0a12e" stroke-width="1" fill="none" stroke-linejoin="round" />
<polyline points="210.3,66.3 213.4,61" stroke="#f0a12e" stroke-width="1" fill="none" stroke-linejoin="round" />
<line x1="213.4" y1="61" x2="215.8" y2="58" stroke="#ec2a24" stroke-width="1.1" />
<line x1="215.8" y1="58" x2="218.8" y2="57" stroke="#f0a12e" stroke-width="1" />
<polyline points="276.5,44.8 276.3,48" stroke="#f0a12e" stroke-width="1" fill="none" stroke-linejoin="round" />
<line x1="276.3" y1="48" x2="273.6" y2="50.6" stroke="#ec2a24" stroke-width="1.1" />
<polyline points="273.6,50.6 270,53.6" stroke="#f0a12e" stroke-width="1" fill="none" stroke-linejoin="round" />
<polyline points="278,56.8 273,58.6 270,55" stroke="#f0a12e" stroke-width="1" fill="none" stroke-linejoin="round" />
<line x1="236.2" y1="36.5" x2="221.5" y2="53.2" stroke="#f0a12e" stroke-width="2.3" />
<line x1="221.5" y1="53.5" x2="218.8" y2="57" stroke="#f0a12e" stroke-width="1.6" />
<line x1="252.3" y1="36.5" x2="267" y2="51.5" stroke="#f0a12e" stroke-width="2.3" />
<line x1="266.5" y1="51" x2="270" y2="54" stroke="#f0a12e" stroke-width="1.6" />
<polyline points="218.8,57 223.5,62 228.5,66.5 233,68.5 234,76.5 232.5,79" stroke="#f0a12e" stroke-width="1.1" fill="none" stroke-linejoin="round" />
<polyline points="218.8,57 224.5,58 228,66" stroke="#f0a12e" stroke-width="1" fill="none" stroke-linejoin="round" />
<polyline points="270,54 265,62 258.5,66.5 254,68.5 255,76.5 256,79" stroke="#f0a12e" stroke-width="1.1" fill="none" stroke-linejoin="round" />
<polyline points="270,54 272.5,60 268.5,66" stroke="#f0a12e" stroke-width="1" fill="none" stroke-linejoin="round" />
<polyline points="236.5,31 231.5,39 229,47" stroke="#f0a12e" stroke-width="1" fill="none" stroke-linejoin="round" />
<polygon points="241.4,43 239.45,46.38 235.55,46.38 233.6,43 235.55,39.62 239.45,39.62" stroke="#2cd2e4" stroke-width="1" fill="none" stroke-linejoin="round" />
<polygon points="234.84,51.68 232.33,54.66 228.49,53.99 227.16,50.32 229.67,47.34 233.51,48.01" stroke="#2cd2e4" stroke-width="1" fill="none" stroke-linejoin="round" />
<polygon points="261.16,40.83 258.18,43.34 254.51,42.01 253.84,38.17 256.82,35.66 260.49,36.99" stroke="#2cd2e4" stroke-width="1" fill="none" stroke-linejoin="round" />
<polygon points="254.9,45.5 252.95,48.88 249.05,48.88 247.1,45.5 249.05,42.12 252.95,42.12" stroke="#2cd2e4" stroke-width="1" fill="none" stroke-linejoin="round" />
<polygon points="266.27,48.51 263.51,51.27 259.74,50.26 258.73,46.49 261.49,43.73 265.26,44.74" stroke="#2cd2e4" stroke-width="1" fill="none" stroke-linejoin="round" />
<polygon points="259.9,55.5 257.95,58.88 254.05,58.88 252.1,55.5 254.05,52.12 257.95,52.12" stroke="#2cd2e4" stroke-width="1" fill="none" stroke-linejoin="round" />
<polygon points="273.88,59.95 270.5,61.9 267.12,59.95 267.12,56.05 270.5,54.1 273.88,56.05" stroke="#2cd2e4" stroke-width="1" fill="none" stroke-linejoin="round" />
<polygon points="232.9,62.5 230.95,65.88 227.05,65.88 225.1,62.5 227.05,59.12 230.95,59.12" stroke="#2cd2e4" stroke-width="1" fill="none" stroke-linejoin="round" />
<polygon points="239.66,69.83 236.68,72.34 233.01,71.01 232.34,67.17 235.32,64.66 238.99,65.99" stroke="#2cd2e4" stroke-width="1" fill="none" stroke-linejoin="round" />
<polygon points="250.9,65 248.95,68.38 245.05,68.38 243.1,65 245.05,61.62 248.95,61.62" stroke="#2cd2e4" stroke-width="1" fill="none" stroke-linejoin="round" />
<polygon points="256.34,69.18 253.83,72.16 249.99,71.49 248.66,67.82 251.17,64.84 255.01,65.51" stroke="#2cd2e4" stroke-width="1" fill="none" stroke-linejoin="round" />
<polygon points="244.4,60 242.45,63.38 238.55,63.38 236.6,60 238.55,56.62 242.45,56.62" stroke="#2cd2e4" stroke-width="1" fill="none" stroke-linejoin="round" />
<polygon points="264.99,40.51 261.32,41.84 258.34,39.33 259.01,35.49 262.68,34.16 265.66,36.67" stroke="#2cd2e4" stroke-width="1" fill="none" stroke-linejoin="round" />
<polygon points="233.4,41 231.45,44.38 227.55,44.38 225.6,41 227.55,37.62 231.45,37.62" stroke="#2cd2e4" stroke-width="1" fill="none" stroke-linejoin="round" />
<polygon points="236.53,58.65 233.34,60.89 229.81,59.24 229.47,55.35 232.66,53.11 236.19,54.76" stroke="#2cd2e4" stroke-width="1" fill="none" stroke-linejoin="round" />
<polygon points="262.9,63 260.95,66.38 257.05,66.38 255.1,63 257.05,59.62 260.95,59.62" stroke="#2cd2e4" stroke-width="1" fill="none" stroke-linejoin="round" />
<polygon points="246.77,45.01 244.01,47.77 240.24,46.76 239.23,42.99 241.99,40.23 245.76,41.24" stroke="#2cd2e4" stroke-width="1" fill="none" stroke-linejoin="round" />
<polyline points="228,36 226,45 228.5,55 226.5,66 229,74" stroke="#2cd2e4" stroke-width="1" fill="none" stroke-linejoin="round" />
<polyline points="260,34 266,40 268,50 264,56" stroke="#2cd2e4" stroke-width="1" fill="none" stroke-linejoin="round" />
<polyline points="239,62 243,70 250,62 246,56" stroke="#2cd2e4" stroke-width="1" fill="none" stroke-linejoin="round" />
<polygon points="270.11,67.04 266.54,68.34 263.63,65.9 264.29,62.16 267.86,60.86 270.77,63.3" stroke="#2cd2e4" stroke-width="1.05" fill="none" stroke-linejoin="round" />
<polygon points="276.59,68.19 273.02,69.49 270.11,67.04 270.77,63.3 274.34,62 277.25,64.44" stroke="#2cd2e4" stroke-width="1.05" fill="none" stroke-linejoin="round" />
<polyline points="232.5,29.5 231.6,34.5 235,37.5" stroke="#2cd2e4" stroke-width="1.1" fill="none" stroke-linejoin="round" />
<polyline points="255.5,29.5 256.8,34.5 253,37.5" stroke="#2cd2e4" stroke-width="1.1" fill="none" stroke-linejoin="round" />
<polyline points="229.5,73.5 231,78" stroke="#2cd2e4" stroke-width="1" fill="none" stroke-linejoin="round" />
<polyline points="259,73.5 257,78" stroke="#2cd2e4" stroke-width="1" fill="none" stroke-linejoin="round" />
<circle cx="236.47" cy="54.18" r="2.05" fill="#d6eecf" stroke="#a3cc9a" stroke-width="0.55"/>
<circle cx="236.61" cy="53.67" r="1.85" fill="#d6eecf" stroke="#a3cc9a" stroke-width="0.55"/>
<circle cx="248.16" cy="57.53" r="1.88" fill="#d6eecf" stroke="#a3cc9a" stroke-width="0.55"/>
<circle cx="246.34" cy="48.87" r="1.68" fill="#d6eecf" stroke="#a3cc9a" stroke-width="0.55"/>
<circle cx="253.47" cy="56.12" r="1.92" fill="#d6eecf" stroke="#a3cc9a" stroke-width="0.55"/>
<circle cx="255.8" cy="54.43" r="2.08" fill="#d6eecf" stroke="#a3cc9a" stroke-width="0.55"/>
<circle cx="239.65" cy="47.63" r="1.59" fill="#d6eecf" stroke="#a3cc9a" stroke-width="0.55"/>
<circle cx="253.28" cy="53.02" r="1.54" fill="#d6eecf" stroke="#a3cc9a" stroke-width="0.55"/>
<circle cx="247.26" cy="56.57" r="1.52" fill="#d6eecf" stroke="#a3cc9a" stroke-width="0.55"/>
<circle cx="237.04" cy="53.67" r="2.01" fill="#d6eecf" stroke="#a3cc9a" stroke-width="0.55"/>
<circle cx="235.64" cy="51.78" r="1.8" fill="#d6eecf" stroke="#a3cc9a" stroke-width="0.55"/>
<circle cx="240.58" cy="48.01" r="1.67" fill="#d6eecf" stroke="#a3cc9a" stroke-width="0.55"/>
<circle cx="256.27" cy="52.39" r="2" fill="#d6eecf" stroke="#a3cc9a" stroke-width="0.55"/>
<circle cx="242.92" cy="47.99" r="1.64" fill="#d6eecf" stroke="#a3cc9a" stroke-width="0.55"/>
<circle cx="243.44" cy="56.05" r="1.96" fill="#d6eecf" stroke="#a3cc9a" stroke-width="0.55"/>
<circle cx="236.27" cy="56.52" r="1.73" fill="#d6eecf" stroke="#a3cc9a" stroke-width="0.55"/>
<circle cx="254.97" cy="50.71" r="1.5" fill="#d6eecf" stroke="#a3cc9a" stroke-width="0.55"/>
<circle cx="247.54" cy="59.4" r="1.78" fill="#d6eecf" stroke="#a3cc9a" stroke-width="0.55"/>
<circle cx="252.43" cy="51.88" r="1.54" fill="#d6eecf" stroke="#a3cc9a" stroke-width="0.55"/>
<circle cx="237.86" cy="47.71" r="1.66" fill="#d6eecf" stroke="#a3cc9a" stroke-width="0.55"/>
<circle cx="251.01" cy="54.97" r="2.08" fill="#d6eecf" stroke="#a3cc9a" stroke-width="0.55"/>
<circle cx="245.1" cy="48.64" r="1.65" fill="#d6eecf" stroke="#a3cc9a" stroke-width="0.55"/>
<circle cx="249.27" cy="54.65" r="1.98" fill="#d6eecf" stroke="#a3cc9a" stroke-width="0.55"/>
<circle cx="248.62" cy="57.61" r="1.77" fill="#d6eecf" stroke="#a3cc9a" stroke-width="0.55"/>
<polygon points="241.39,50.58 240.43,53.1 237.77,53.54 236.06,51.45 237.02,48.93 239.68,48.49" stroke="#8a8a8a" stroke-width="1.05" fill="none" stroke-linejoin="round" />
<polygon points="247.48,52.83 245.86,54.98 243.18,54.66 242.12,52.17 243.74,50.02 246.42,50.34" stroke="#8a8a8a" stroke-width="1.05" fill="none" stroke-linejoin="round" />
<polygon points="253.52,50.5 252.65,53.05 250,53.57 248.23,51.53 249.1,48.98 251.75,48.46" stroke="#8a8a8a" stroke-width="1.05" fill="none" stroke-linejoin="round" />
<polygon points="244.45,55.67 242.93,57.9 240.24,57.7 239.07,55.27 240.59,53.04 243.28,53.24" stroke="#8a8a8a" stroke-width="1.05" fill="none" stroke-linejoin="round" />
<polygon points="250.48,54.93 249.63,57.49 246.98,58.03 245.19,56.01 246.05,53.45 248.69,52.91" stroke="#8a8a8a" stroke-width="1.05" fill="none" stroke-linejoin="round" />
<polygon points="256.41,54.17 255.16,56.56 252.46,56.67 251.01,54.39 252.26,52 254.96,51.89" stroke="#8a8a8a" stroke-width="1.05" fill="none" stroke-linejoin="round" />
<line x1="246.26" y1="56.51" x2="246.86" y2="59.04" stroke="#8a8a8a" stroke-width="0.9" />
<line x1="244.02" y1="56.59" x2="243.69" y2="59.17" stroke="#8a8a8a" stroke-width="0.9" />
<line x1="251.02" y1="51.75" x2="253.58" y2="51.28" stroke="#8a8a8a" stroke-width="0.9" />
<line x1="246.88" y1="48.61" x2="247.74" y2="46.15" stroke="#8a8a8a" stroke-width="0.9" />
<line x1="242.69" y1="56.39" x2="241.82" y2="58.84" stroke="#8a8a8a" stroke-width="0.9" />
<line x1="249.54" y1="49.77" x2="251.49" y2="48.05" stroke="#8a8a8a" stroke-width="0.9" />
<line x1="246.35" y1="56.5" x2="246.98" y2="59.02" stroke="#8a8a8a" stroke-width="0.9" />
<line x1="239.82" y1="55.04" x2="237.77" y2="56.65" stroke="#8a8a8a" stroke-width="0.9" />
<circle cx="244.8" cy="52.5" r="1.5" fill="#2a36e0"/>
<line x1="241.85" y1="32.5" x2="238.73" y2="30.7" stroke="#ec2a24" stroke-width="1.4" />
<line x1="243" y1="31.44" x2="241.48" y2="28.18" stroke="#ec2a24" stroke-width="1.4" />
<line x1="245.2" y1="31.44" x2="246.72" y2="28.18" stroke="#ec2a24" stroke-width="1.4" />
<line x1="246.35" y1="32.5" x2="249.47" y2="30.7" stroke="#ec2a24" stroke-width="1.4" />
<line x1="242.11" y1="35.47" x2="239.35" y2="37.79" stroke="#ec2a24" stroke-width="1.4" />
<line x1="246.09" y1="35.47" x2="248.85" y2="37.79" stroke="#ec2a24" stroke-width="1.4" />
<line x1="242.61" y1="72.09" x2="238.48" y2="68.61" stroke="#ec2a24" stroke-width="1.5" />
<line x1="245.99" y1="72.09" x2="250.12" y2="68.61" stroke="#ec2a24" stroke-width="1.5" />
<line x1="244.3" y1="71.3" x2="244.3" y2="65.9" stroke="#ec2a24" stroke-width="1.5" />
<line x1="242.61" y1="74.91" x2="238.48" y2="78.39" stroke="#ec2a24" stroke-width="1.5" />
<line x1="245.99" y1="74.91" x2="250.12" y2="78.39" stroke="#ec2a24" stroke-width="1.5" />
<rect x="242.1" y="32" width="4" height="3.6" fill="#14868a"/>
<rect x="242.3" y="72" width="4" height="3.6" fill="#14868a"/>
<line x1="228.3" y1="28" x2="225.39" y2="25.56" stroke="#3ee03a" stroke-width="1.2" />
<line x1="228.3" y1="28" x2="230.2" y2="24.71" stroke="#3ee03a" stroke-width="1.2" />
<line x1="228.3" y1="28" x2="232.04" y2="28.66" stroke="#3ee03a" stroke-width="1.2" />
<line x1="228.3" y1="28" x2="230.9" y2="30.8" stroke="#8c8c8c" stroke-width="1.2" />
<circle cx="228.3" cy="28" r="0.9" fill="#777"/>
<line x1="238.5" y1="26.8" x2="235.59" y2="24.36" stroke="#3ee03a" stroke-width="1.2" />
<line x1="238.5" y1="26.8" x2="240.4" y2="23.51" stroke="#3ee03a" stroke-width="1.2" />
<line x1="238.5" y1="26.8" x2="242.24" y2="27.46" stroke="#3ee03a" stroke-width="1.2" />
<line x1="238.5" y1="26.8" x2="241.1" y2="29.6" stroke="#8c8c8c" stroke-width="1.2" />
<circle cx="238.5" cy="26.8" r="0.9" fill="#777"/>
<line x1="247" y1="26.4" x2="244.09" y2="23.96" stroke="#3ee03a" stroke-width="1.2" />
<line x1="247" y1="26.4" x2="248.9" y2="23.11" stroke="#3ee03a" stroke-width="1.2" />
<line x1="247" y1="26.4" x2="250.74" y2="27.06" stroke="#3ee03a" stroke-width="1.2" />
<line x1="247" y1="26.4" x2="249.6" y2="29.2" stroke="#8c8c8c" stroke-width="1.2" />
<circle cx="247" cy="26.4" r="0.9" fill="#777"/>
<line x1="257" y1="26.8" x2="254.09" y2="24.36" stroke="#3ee03a" stroke-width="1.2" />
<line x1="257" y1="26.8" x2="258.9" y2="23.51" stroke="#3ee03a" stroke-width="1.2" />
<line x1="257" y1="26.8" x2="260.74" y2="27.46" stroke="#3ee03a" stroke-width="1.2" />
<line x1="257" y1="26.8" x2="259.6" y2="29.6" stroke="#8c8c8c" stroke-width="1.2" />
<circle cx="257" cy="26.8" r="0.9" fill="#777"/>
<line x1="232" y1="79.8" x2="229.09" y2="82.24" stroke="#3ee03a" stroke-width="1.2" />
<line x1="232" y1="79.8" x2="233.9" y2="83.09" stroke="#3ee03a" stroke-width="1.2" />
<line x1="232" y1="79.8" x2="235.74" y2="79.14" stroke="#3ee03a" stroke-width="1.2" />
<line x1="232" y1="79.8" x2="229.4" y2="77" stroke="#8c8c8c" stroke-width="1.2" />
<line x1="251.5" y1="80.5" x2="248.59" y2="82.94" stroke="#3ee03a" stroke-width="1.2" />
<line x1="251.5" y1="80.5" x2="253.4" y2="83.79" stroke="#3ee03a" stroke-width="1.2" />
<line x1="251.5" y1="80.5" x2="255.24" y2="79.84" stroke="#3ee03a" stroke-width="1.2" />
<line x1="251.5" y1="80.5" x2="248.9" y2="77.7" stroke="#8c8c8c" stroke-width="1.2" />
<line x1="256.5" y1="79.2" x2="253.59" y2="81.64" stroke="#3ee03a" stroke-width="1.2" />
<line x1="256.5" y1="79.2" x2="258.4" y2="82.49" stroke="#3ee03a" stroke-width="1.2" />
<line x1="256.5" y1="79.2" x2="260.24" y2="78.54" stroke="#3ee03a" stroke-width="1.2" />
<line x1="256.5" y1="79.2" x2="253.9" y2="76.4" stroke="#8c8c8c" stroke-width="1.2" />
<circle cx="572.12" cy="6.65" r="1.98" fill="#d6eecf" stroke="#a3cc9a" stroke-width="0.55"/>
<circle cx="589.82" cy="8.9" r="2.05" fill="#d6eecf" stroke="#a3cc9a" stroke-width="0.55"/>
<circle cx="588.48" cy="12.17" r="2.07" fill="#d6eecf" stroke="#a3cc9a" stroke-width="0.55"/>
<circle cx="572.79" cy="5.41" r="1.57" fill="#d6eecf" stroke="#a3cc9a" stroke-width="0.55"/>
<circle cx="572.62" cy="12.06" r="1.83" fill="#d6eecf" stroke="#a3cc9a" stroke-width="0.55"/>
<circle cx="574.69" cy="9.64" r="1.63" fill="#d6eecf" stroke="#a3cc9a" stroke-width="0.55"/>
<circle cx="577.6" cy="18.33" r="1.96" fill="#d6eecf" stroke="#a3cc9a" stroke-width="0.55"/>
<circle cx="585.77" cy="16.89" r="1.58" fill="#d6eecf" stroke="#a3cc9a" stroke-width="0.55"/>
<circle cx="574.99" cy="8.54" r="1.5" fill="#d6eecf" stroke="#a3cc9a" stroke-width="0.55"/>
<circle cx="584.68" cy="8.09" r="1.63" fill="#d6eecf" stroke="#a3cc9a" stroke-width="0.55"/>
<circle cx="591.35" cy="10.42" r="1.67" fill="#d6eecf" stroke="#a3cc9a" stroke-width="0.55"/>
<circle cx="588.86" cy="9.84" r="1.91" fill="#d6eecf" stroke="#a3cc9a" stroke-width="0.55"/>
<circle cx="583.19" cy="18.26" r="1.91" fill="#d6eecf" stroke="#a3cc9a" stroke-width="0.55"/>
<circle cx="591.31" cy="9.71" r="1.68" fill="#d6eecf" stroke="#a3cc9a" stroke-width="0.55"/>
<circle cx="575.45" cy="14.35" r="1.59" fill="#d6eecf" stroke="#a3cc9a" stroke-width="0.55"/>
<circle cx="586.86" cy="13.06" r="1.86" fill="#d6eecf" stroke="#a3cc9a" stroke-width="0.55"/>
<circle cx="590.08" cy="11.33" r="1.7" fill="#d6eecf" stroke="#a3cc9a" stroke-width="0.55"/>
<circle cx="575.66" cy="17.56" r="1.79" fill="#d6eecf" stroke="#a3cc9a" stroke-width="0.55"/>
<circle cx="576.21" cy="16.17" r="1.92" fill="#d6eecf" stroke="#a3cc9a" stroke-width="0.55"/>
<circle cx="591.35" cy="13.83" r="1.51" fill="#d6eecf" stroke="#a3cc9a" stroke-width="0.55"/>
<circle cx="579.79" cy="4.25" r="1.51" fill="#d6eecf" stroke="#a3cc9a" stroke-width="0.55"/>
<circle cx="581.71" cy="6.39" r="1.85" fill="#d6eecf" stroke="#a3cc9a" stroke-width="0.55"/>
<circle cx="585.74" cy="11.41" r="1.61" fill="#d6eecf" stroke="#a3cc9a" stroke-width="0.55"/>
<circle cx="586.5" cy="10.02" r="1.95" fill="#d6eecf" stroke="#a3cc9a" stroke-width="0.55"/>
<circle cx="590.74" cy="8.05" r="1.71" fill="#d6eecf" stroke="#a3cc9a" stroke-width="0.55"/>
<circle cx="574.15" cy="15.64" r="1.97" fill="#d6eecf" stroke="#a3cc9a" stroke-width="0.55"/>
<circle cx="588.18" cy="15.31" r="1.98" fill="#d6eecf" stroke="#a3cc9a" stroke-width="0.55"/>
<circle cx="583.54" cy="8.44" r="2.07" fill="#d6eecf" stroke="#a3cc9a" stroke-width="0.55"/>
<circle cx="586.5" cy="13.83" r="1.87" fill="#d6eecf" stroke="#a3cc9a" stroke-width="0.55"/>
<circle cx="586.73" cy="8.82" r="2.05" fill="#d6eecf" stroke="#a3cc9a" stroke-width="0.55"/>
<polygon points="576.38,9.76 574.96,12.1 572.22,12.03 570.91,9.63 572.33,7.29 575.07,7.36" stroke="#6a6a6a" stroke-width="1.05" fill="none" stroke-linejoin="round" />
<polygon points="582.52,10.93 581.39,13.42 578.67,13.69 577.08,11.47 578.21,8.98 580.93,8.71" stroke="#6a6a6a" stroke-width="1.05" fill="none" stroke-linejoin="round" />
<polygon points="588.68,9.43 587.54,11.92 584.82,12.18 583.23,9.96 584.37,7.47 587.09,7.21" stroke="#6a6a6a" stroke-width="1.05" fill="none" stroke-linejoin="round" />
<polygon points="579.42,13.75 578.47,16.32 575.77,16.78 574.02,14.67 574.98,12.1 577.67,11.64" stroke="#6a6a6a" stroke-width="1.05" fill="none" stroke-linejoin="round" />
<polygon points="585.55,13.61 584.73,16.22 582.06,16.82 580.21,14.81 581.02,12.2 583.69,11.6" stroke="#6a6a6a" stroke-width="1.05" fill="none" stroke-linejoin="round" />
<polygon points="591.52,12.51 590.61,15.09 587.92,15.59 586.14,13.51 587.05,10.93 589.74,10.43" stroke="#6a6a6a" stroke-width="1.05" fill="none" stroke-linejoin="round" />
<line x1="577.24" y1="7.32" x2="576.27" y2="4.91" stroke="#6a6a6a" stroke-width="0.9" />
<line x1="586.67" y1="11.11" x2="589.27" y2="11.06" stroke="#6a6a6a" stroke-width="0.9" />
<line x1="583.43" y1="14.75" x2="584.8" y2="16.96" stroke="#6a6a6a" stroke-width="0.9" />
<line x1="586.36" y1="12.46" x2="588.84" y2="13.24" stroke="#6a6a6a" stroke-width="0.9" />
<line x1="586.65" y1="10.85" x2="589.24" y2="10.63" stroke="#6a6a6a" stroke-width="0.9" />
<line x1="573.08" y1="10.33" x2="570.53" y2="9.78" stroke="#6a6a6a" stroke-width="0.9" />
<line x1="574.09" y1="13.53" x2="571.93" y2="14.98" stroke="#6a6a6a" stroke-width="0.9" />
<line x1="580.35" y1="15.37" x2="580.55" y2="17.96" stroke="#6a6a6a" stroke-width="0.9" />
<line x1="574.09" y1="8.87" x2="571.93" y2="7.43" stroke="#6a6a6a" stroke-width="0.9" />
<line x1="582.97" y1="7.49" x2="584.17" y2="5.18" stroke="#6a6a6a" stroke-width="0.9" />
<circle cx="579.8" cy="11.2" r="1.5" fill="#1a1ab0"/>
<polygon points="556.6,34.5 554.55,38.05 550.45,38.05 548.4,34.5 550.45,30.95 554.55,30.95" stroke="#f0a12e" stroke-width="1" fill="none" stroke-linejoin="round" />
<polygon points="562.6,37.5 560.55,41.05 556.45,41.05 554.4,37.5 556.45,33.95 560.55,33.95" stroke="#f0a12e" stroke-width="1" fill="none" stroke-linejoin="round" />
<polygon points="561.1,59 559.05,62.55 554.95,62.55 552.9,59 554.95,55.45 559.05,55.45" stroke="#f0a12e" stroke-width="1" fill="none" stroke-linejoin="round" />
<polygon points="567.54,60.71 564.9,63.85 560.86,63.14 559.46,59.29 562.1,56.15 566.14,56.86" stroke="#f0a12e" stroke-width="1" fill="none" stroke-linejoin="round" />
<polygon points="572.1,65 570.05,68.55 565.95,68.55 563.9,65 565.95,61.45 570.05,61.45" stroke="#f0a12e" stroke-width="1" fill="none" stroke-linejoin="round" />
<polygon points="559.85,51.4 556.71,54.04 552.86,52.64 552.15,48.6 555.29,45.96 559.14,47.36" stroke="#f0a12e" stroke-width="1" fill="none" stroke-linejoin="round" />
<polygon points="566.1,45 564.05,48.55 559.95,48.55 557.9,45 559.95,41.45 564.05,41.45" stroke="#f0a12e" stroke-width="1" fill="none" stroke-linejoin="round" />
<polygon points="588.1,62 586.05,65.55 581.95,65.55 579.9,62 581.95,58.45 586.05,58.45" stroke="#f0a12e" stroke-width="1" fill="none" stroke-linejoin="round" />
<polygon points="594.04,66.71 591.4,69.85 587.36,69.14 585.96,65.29 588.6,62.15 592.64,62.86" stroke="#f0a12e" stroke-width="1" fill="none" stroke-linejoin="round" />
<polygon points="600.1,60 598.05,63.55 593.95,63.55 591.9,60 593.95,56.45 598.05,56.45" stroke="#f0a12e" stroke-width="1" fill="none" stroke-linejoin="round" />
<polygon points="590.1,70 588.05,73.55 583.95,73.55 581.9,70 583.95,66.45 588.05,66.45" stroke="#f0a12e" stroke-width="1" fill="none" stroke-linejoin="round" />
<polygon points="579.1,68 577.05,71.55 572.95,71.55 570.9,68 572.95,64.45 577.05,64.45" stroke="#f0a12e" stroke-width="1" fill="none" stroke-linejoin="round" />
<polygon points="610.1,36.5 608.05,40.05 603.95,40.05 601.9,36.5 603.95,32.95 608.05,32.95" stroke="#f0a12e" stroke-width="1" fill="none" stroke-linejoin="round" />
<polygon points="617.6,39 615.55,42.55 611.45,42.55 609.4,39 611.45,35.45 615.55,35.45" stroke="#f0a12e" stroke-width="1" fill="none" stroke-linejoin="round" />
<polyline points="569,34 566,45 570,56 572,72 576,78" stroke="#f0a12e" stroke-width="1" fill="none" stroke-linejoin="round" />
<polyline points="585,34 588,45 584,55" stroke="#f0a12e" stroke-width="1" fill="none" stroke-linejoin="round" />
<polyline points="575,30.5 571,42 563,48" stroke="#f0a12e" stroke-width="1.1" fill="none" stroke-linejoin="round" />
<polyline points="579.5,30.5 583,42 588,52" stroke="#f0a12e" stroke-width="1.1" fill="none" stroke-linejoin="round" />
<polyline points="560,70 563,78 568,80" stroke="#f0a12e" stroke-width="1" fill="none" stroke-linejoin="round" />
<polyline points="617,42 620,45" stroke="#f0a12e" stroke-width="1" fill="none" stroke-linejoin="round" />
<polygon points="545.88,73.38 541.54,74.55 538.35,71.36 539.52,67.02 543.86,65.85 547.05,69.04" stroke="#2cd2e4" stroke-width="1.05" fill="none" stroke-linejoin="round" />
<polygon points="553.41,75.4 549.06,76.56 545.88,73.38 547.05,69.04 551.39,67.87 554.58,71.05" stroke="#2cd2e4" stroke-width="1.05" fill="none" stroke-linejoin="round" />
<line x1="540" y1="74" x2="538" y2="79.5" stroke="#2cd2e4" stroke-width="1" />
<polyline points="545,65 547,59" stroke="#2cd2e4" stroke-width="1" fill="none" stroke-linejoin="round" />
<line x1="547" y1="59" x2="550" y2="57.5" stroke="#ec2a24" stroke-width="1.1" />
<polyline points="550,57.5 553,54 552,47 556.5,42" stroke="#2cd2e4" stroke-width="1" fill="none" stroke-linejoin="round" />
<polygon points="606.16,34.52 601.63,35.32 598.67,31.8 600.24,27.48 604.77,26.68 607.73,30.2" stroke="#2cd2e4" stroke-width="1.05" fill="none" stroke-linejoin="round" />
<polygon points="613.64,37.25 609.11,38.05 606.16,34.52 607.73,30.2 612.26,29.4 615.22,32.93" stroke="#2cd2e4" stroke-width="1.05" fill="none" stroke-linejoin="round" />
<line x1="612.5" y1="31" x2="616.5" y2="26.3" stroke="#2cd2e4" stroke-width="1" />
<polygon points="614.23,63.75 612.76,67.79 608.53,68.54 605.77,65.25 607.24,61.21 611.47,60.46" stroke="#2cd2e4" stroke-width="1.05" fill="none" stroke-linejoin="round" />
<polygon points="619.94,58.97 618.47,63.01 614.23,63.75 611.47,60.46 612.94,56.42 617.18,55.67" stroke="#2cd2e4" stroke-width="1.05" fill="none" stroke-linejoin="round" />
<line x1="607.5" y1="68.5" x2="607" y2="73.5" stroke="#2cd2e4" stroke-width="1" />
<polyline points="611,60.5 608.5,55.8" stroke="#2cd2e4" stroke-width="1" fill="none" stroke-linejoin="round" />
<line x1="608.5" y1="55.8" x2="604" y2="51" stroke="#ec2a24" stroke-width="1.1" />
<line x1="585.5" y1="78.3" x2="602.4" y2="48.9" stroke="#2cd2e4" stroke-width="1.2" />
<line x1="587" y1="77" x2="603.5" y2="50.5" stroke="#2cd2e4" stroke-width="0.8" />
<polygon points="568.9,33 566.95,36.38 563.05,36.38 561.1,33 563.05,29.62 566.95,29.62" stroke="#2cd2e4" stroke-width="1" fill="none" stroke-linejoin="round" />
<polygon points="594.9,34 592.95,37.38 589.05,37.38 587.1,34 589.05,30.62 592.95,30.62" stroke="#2cd2e4" stroke-width="1" fill="none" stroke-linejoin="round" />
<polygon points="551.9,42 549.95,45.38 546.05,45.38 544.1,42 546.05,38.62 549.95,38.62" stroke="#2cd2e4" stroke-width="1" fill="none" stroke-linejoin="round" />
<polygon points="600.16,46.83 597.18,49.34 593.51,48.01 592.84,44.17 595.82,41.66 599.49,42.99" stroke="#2cd2e4" stroke-width="1" fill="none" stroke-linejoin="round" />
<polygon points="556.9,62.5 554.95,65.88 551.05,65.88 549.1,62.5 551.05,59.12 554.95,59.12" stroke="#2cd2e4" stroke-width="1" fill="none" stroke-linejoin="round" />
<polygon points="569.9,74.5 567.95,77.88 564.05,77.88 562.1,74.5 564.05,71.12 567.95,71.12" stroke="#2cd2e4" stroke-width="1" fill="none" stroke-linejoin="round" />
<polyline points="568,26 563.5,30 563,38" stroke="#2cd2e4" stroke-width="1" fill="none" stroke-linejoin="round" />
<polyline points="590,26 594,30 592,38" stroke="#2cd2e4" stroke-width="1" fill="none" stroke-linejoin="round" />
<polyline points="556,52 560,56 563,68" stroke="#2cd2e4" stroke-width="1" fill="none" stroke-linejoin="round" />
<circle cx="571.21" cy="50.58" r="2.08" fill="#d6eecf" stroke="#a3cc9a" stroke-width="0.55"/>
<circle cx="578.25" cy="57.83" r="1.92" fill="#d6eecf" stroke="#a3cc9a" stroke-width="0.55"/>
<circle cx="577.67" cy="48.25" r="1.52" fill="#d6eecf" stroke="#a3cc9a" stroke-width="0.55"/>
<circle cx="573.75" cy="55.79" r="1.65" fill="#d6eecf" stroke="#a3cc9a" stroke-width="0.55"/>
<circle cx="573.94" cy="51.45" r="2.01" fill="#d6eecf" stroke="#a3cc9a" stroke-width="0.55"/>
<circle cx="587.13" cy="49.8" r="2.1" fill="#d6eecf" stroke="#a3cc9a" stroke-width="0.55"/>
<circle cx="589.21" cy="54.06" r="2.03" fill="#d6eecf" stroke="#a3cc9a" stroke-width="0.55"/>
<circle cx="585.63" cy="56.61" r="1.84" fill="#d6eecf" stroke="#a3cc9a" stroke-width="0.55"/>
<circle cx="586.2" cy="50.32" r="1.82" fill="#d6eecf" stroke="#a3cc9a" stroke-width="0.55"/>
<circle cx="586.72" cy="47.45" r="1.69" fill="#d6eecf" stroke="#a3cc9a" stroke-width="0.55"/>
<circle cx="589.34" cy="55.07" r="1.78" fill="#d6eecf" stroke="#a3cc9a" stroke-width="0.55"/>
<circle cx="586.04" cy="51.41" r="1.99" fill="#d6eecf" stroke="#a3cc9a" stroke-width="0.55"/>
<circle cx="584.39" cy="44.89" r="1.51" fill="#d6eecf" stroke="#a3cc9a" stroke-width="0.55"/>
<circle cx="577.01" cy="54.08" r="1.95" fill="#d6eecf" stroke="#a3cc9a" stroke-width="0.55"/>
<circle cx="574.23" cy="57.3" r="1.72" fill="#d6eecf" stroke="#a3cc9a" stroke-width="0.55"/>
<circle cx="581.99" cy="44.63" r="1.64" fill="#d6eecf" stroke="#a3cc9a" stroke-width="0.55"/>
<circle cx="570.89" cy="48.94" r="1.82" fill="#d6eecf" stroke="#a3cc9a" stroke-width="0.55"/>
<circle cx="576.51" cy="54.95" r="1.97" fill="#d6eecf" stroke="#a3cc9a" stroke-width="0.55"/>
<circle cx="583.39" cy="56.99" r="1.83" fill="#d6eecf" stroke="#a3cc9a" stroke-width="0.55"/>
<circle cx="575.33" cy="50.21" r="1.9" fill="#d6eecf" stroke="#a3cc9a" stroke-width="0.55"/>
<circle cx="586.18" cy="49.15" r="1.7" fill="#d6eecf" stroke="#a3cc9a" stroke-width="0.55"/>
<circle cx="587.28" cy="48.38" r="1.66" fill="#d6eecf" stroke="#a3cc9a" stroke-width="0.55"/>
<circle cx="589.56" cy="51.9" r="1.71" fill="#d6eecf" stroke="#a3cc9a" stroke-width="0.55"/>
<circle cx="574.33" cy="52.42" r="1.88" fill="#d6eecf" stroke="#a3cc9a" stroke-width="0.55"/>
<circle cx="579.64" cy="46.89" r="1.55" fill="#d6eecf" stroke="#a3cc9a" stroke-width="0.55"/>
<circle cx="590.45" cy="50.91" r="1.51" fill="#d6eecf" stroke="#a3cc9a" stroke-width="0.55"/>
<polygon points="577.12,50.11 575.7,52.4 573,52.31 571.73,49.92 573.15,47.63 575.85,47.72" stroke="#6a6a6a" stroke-width="1.05" fill="none" stroke-linejoin="round" />
<polygon points="583.19,51.76 581.62,53.96 578.93,53.7 577.81,51.24 579.38,49.04 582.07,49.3" stroke="#6a6a6a" stroke-width="1.05" fill="none" stroke-linejoin="round" />
<polygon points="589.27,49.88 588.04,52.28 585.35,52.42 583.88,50.15 585.11,47.75 587.8,47.61" stroke="#6a6a6a" stroke-width="1.05" fill="none" stroke-linejoin="round" />
<polygon points="580.14,54.8 578.52,56.95 575.84,56.63 574.78,54.14 576.41,51.99 579.09,52.31" stroke="#6a6a6a" stroke-width="1.05" fill="none" stroke-linejoin="round" />
<polygon points="586.16,55.11 584.29,57.06 581.67,56.42 580.92,53.83 582.78,51.88 585.41,52.52" stroke="#6a6a6a" stroke-width="1.05" fill="none" stroke-linejoin="round" />
<line x1="575.63" y1="49.29" x2="573.43" y2="47.89" stroke="#6a6a6a" stroke-width="0.9" />
<line x1="576.01" y1="54.1" x2="573.99" y2="55.74" stroke="#6a6a6a" stroke-width="0.9" />
<line x1="582.43" y1="55.39" x2="583.3" y2="57.84" stroke="#6a6a6a" stroke-width="0.9" />
<line x1="580.45" y1="55.62" x2="580.43" y2="58.22" stroke="#6a6a6a" stroke-width="0.9" />
<line x1="583.87" y1="54.85" x2="585.39" y2="56.96" stroke="#6a6a6a" stroke-width="0.9" />
<line x1="584.94" y1="54.14" x2="586.94" y2="55.8" stroke="#6a6a6a" stroke-width="0.9" />
<line x1="581.85" y1="55.51" x2="582.46" y2="58.04" stroke="#6a6a6a" stroke-width="0.9" />
<line x1="583.66" y1="48.05" x2="585.08" y2="45.87" stroke="#6a6a6a" stroke-width="0.9" />
<circle cx="580.5" cy="51.5" r="1.5" fill="#1a1ab0"/>
<line x1="575.06" y1="29.21" x2="571.67" y2="27.98" stroke="#ec2a24" stroke-width="1.4" />
<line x1="576.01" y1="27.97" x2="573.94" y2="25.02" stroke="#ec2a24" stroke-width="1.4" />
<line x1="578.99" y1="27.97" x2="581.06" y2="25.02" stroke="#ec2a24" stroke-width="1.4" />
<line x1="579.94" y1="29.21" x2="583.33" y2="27.98" stroke="#ec2a24" stroke-width="1.4" />
<line x1="575.06" y1="30.99" x2="571.67" y2="32.22" stroke="#ec2a24" stroke-width="1.4" />
<line x1="579.94" y1="30.99" x2="583.33" y2="32.22" stroke="#ec2a24" stroke-width="1.4" />
<polyline points="566,27 570.5,25.5 573.5,27" stroke="#ec2a24" stroke-width="1.2" fill="none" stroke-linejoin="round" />
<polyline points="581.5,27 585.5,25.5 590,27" stroke="#ec2a24" stroke-width="1.2" fill="none" stroke-linejoin="round" />
<polyline points="566,35.5 570.5,36 573.5,33" stroke="#ec2a24" stroke-width="1.2" fill="none" stroke-linejoin="round" />
<polyline points="582,33 585.5,36 590,35" stroke="#ec2a24" stroke-width="1.2" fill="none" stroke-linejoin="round" />
<line x1="577.75" y1="74.5" x2="574.63" y2="72.7" stroke="#ec2a24" stroke-width="1.4" />
<line x1="579.11" y1="73.36" x2="577.88" y2="69.97" stroke="#ec2a24" stroke-width="1.4" />
<line x1="580.89" y1="73.36" x2="582.12" y2="69.97" stroke="#ec2a24" stroke-width="1.4" />
<line x1="582.25" y1="74.5" x2="585.37" y2="72.7" stroke="#ec2a24" stroke-width="1.4" />
<line x1="577.75" y1="77.1" x2="574.63" y2="78.9" stroke="#ec2a24" stroke-width="1.4" />
<line x1="582.25" y1="77.1" x2="585.37" y2="78.9" stroke="#ec2a24" stroke-width="1.4" />
<polyline points="569,73.5 573,71.5" stroke="#ec2a24" stroke-width="1.2" fill="none" stroke-linejoin="round" />
<polyline points="587,71.5 591,73.5" stroke="#ec2a24" stroke-width="1.2" fill="none" stroke-linejoin="round" />
<rect x="575.5" y="28.3" width="4" height="3.6" fill="#14868a"/>
<rect x="578" y="74" width="4" height="3.6" fill="#14868a"/>
<line x1="563" y1="23.5" x2="560.09" y2="21.06" stroke="#3ee03a" stroke-width="1.2" />
<line x1="563" y1="23.5" x2="564.9" y2="20.21" stroke="#3ee03a" stroke-width="1.2" />
<line x1="563" y1="23.5" x2="566.74" y2="24.16" stroke="#3ee03a" stroke-width="1.2" />
<line x1="563" y1="23.5" x2="565.6" y2="26.3" stroke="#8c8c8c" stroke-width="1.2" />
<circle cx="563" cy="23.5" r="0.9" fill="#777"/>
<line x1="574" y1="22" x2="571.09" y2="19.56" stroke="#3ee03a" stroke-width="1.2" />
<line x1="574" y1="22" x2="575.9" y2="18.71" stroke="#3ee03a" stroke-width="1.2" />
<line x1="574" y1="22" x2="577.74" y2="22.66" stroke="#3ee03a" stroke-width="1.2" />
<line x1="574" y1="22" x2="576.6" y2="24.8" stroke="#8c8c8c" stroke-width="1.2" />
<circle cx="574" cy="22" r="0.9" fill="#777"/>
<line x1="584" y1="21.8" x2="581.09" y2="19.36" stroke="#3ee03a" stroke-width="1.2" />
<line x1="584" y1="21.8" x2="585.9" y2="18.51" stroke="#3ee03a" stroke-width="1.2" />
<line x1="584" y1="21.8" x2="587.74" y2="22.46" stroke="#3ee03a" stroke-width="1.2" />
<line x1="584" y1="21.8" x2="586.6" y2="24.6" stroke="#8c8c8c" stroke-width="1.2" />
<circle cx="584" cy="21.8" r="0.9" fill="#777"/>
<line x1="593.5" y1="22.3" x2="590.59" y2="19.86" stroke="#3ee03a" stroke-width="1.2" />
<line x1="593.5" y1="22.3" x2="595.4" y2="19.01" stroke="#3ee03a" stroke-width="1.2" />
<line x1="593.5" y1="22.3" x2="597.24" y2="22.96" stroke="#3ee03a" stroke-width="1.2" />
<line x1="593.5" y1="22.3" x2="596.1" y2="25.1" stroke="#8c8c8c" stroke-width="1.2" />
<circle cx="593.5" cy="22.3" r="0.9" fill="#777"/>
<line x1="565.5" y1="84" x2="562.59" y2="86.44" stroke="#3ee03a" stroke-width="1.2" />
<line x1="565.5" y1="84" x2="567.4" y2="87.29" stroke="#3ee03a" stroke-width="1.2" />
<line x1="565.5" y1="84" x2="569.24" y2="83.34" stroke="#3ee03a" stroke-width="1.2" />
<line x1="565.5" y1="84" x2="562.9" y2="81.2" stroke="#8c8c8c" stroke-width="1.2" />
<line x1="574.5" y1="84" x2="571.59" y2="86.44" stroke="#3ee03a" stroke-width="1.2" />
<line x1="574.5" y1="84" x2="576.4" y2="87.29" stroke="#3ee03a" stroke-width="1.2" />
<line x1="574.5" y1="84" x2="578.24" y2="83.34" stroke="#3ee03a" stroke-width="1.2" />
<line x1="574.5" y1="84" x2="571.9" y2="81.2" stroke="#8c8c8c" stroke-width="1.2" />
<line x1="586" y1="82.5" x2="583.09" y2="84.94" stroke="#3ee03a" stroke-width="1.2" />
<line x1="586" y1="82.5" x2="587.9" y2="85.79" stroke="#3ee03a" stroke-width="1.2" />
<line x1="586" y1="82.5" x2="589.74" y2="81.84" stroke="#3ee03a" stroke-width="1.2" />
<line x1="586" y1="82.5" x2="583.4" y2="79.7" stroke="#8c8c8c" stroke-width="1.2" />
<line x1="596.5" y1="82.5" x2="593.59" y2="84.94" stroke="#3ee03a" stroke-width="1.2" />
<line x1="596.5" y1="82.5" x2="598.4" y2="85.79" stroke="#3ee03a" stroke-width="1.2" />
<line x1="596.5" y1="82.5" x2="600.24" y2="81.84" stroke="#3ee03a" stroke-width="1.2" />
<line x1="596.5" y1="82.5" x2="593.9" y2="79.7" stroke="#8c8c8c" stroke-width="1.2" />
</svg></body></html>
